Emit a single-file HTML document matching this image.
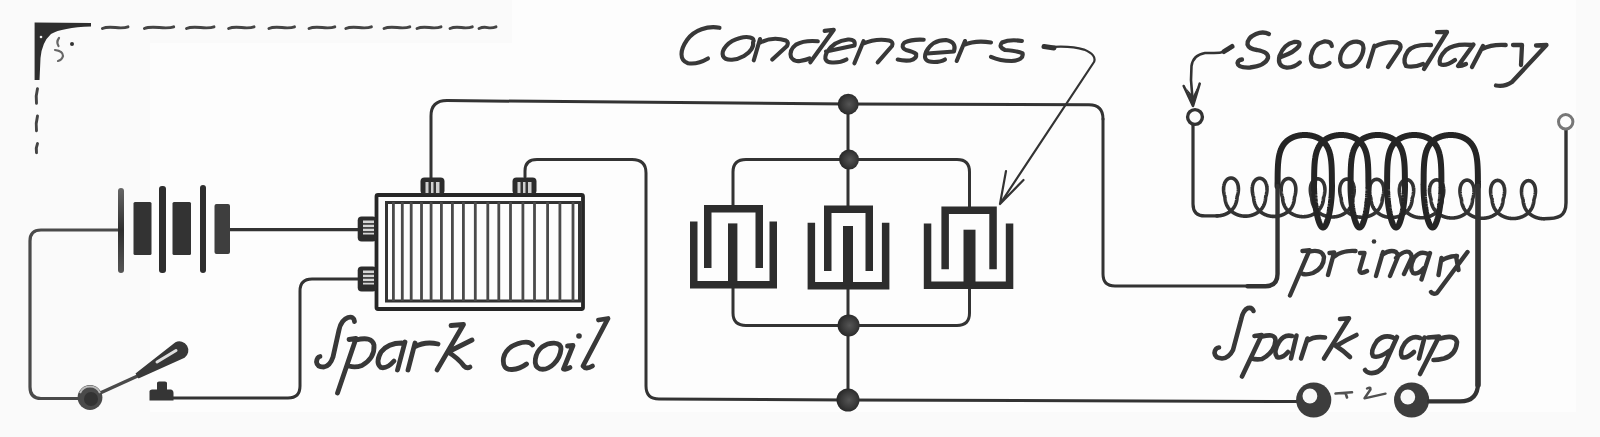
<!DOCTYPE html>
<html><head><meta charset="utf-8"><style>
html,body{margin:0;padding:0;background:#fbfbfb;}
svg{display:block;}
text{font-family:"Liberation Sans",sans-serif;font-style:italic;fill:#353535;}
</style></head><body>
<svg width="1600" height="437" viewBox="0 0 1600 437">
<defs>
<radialGradient id="ball" cx="0.42" cy="0.38" r="0.62"><stop offset="0" stop-color="#444"/><stop offset="0.55" stop-color="#3a3a3a"/><stop offset="0.85" stop-color="#5a5a5a"/><stop offset="1" stop-color="#8a8a8a"/></radialGradient>
<radialGradient id="node" cx="0.55" cy="0.5" r="0.55"><stop offset="0" stop-color="#555"/><stop offset="0.6" stop-color="#3a3a3a"/><stop offset="1" stop-color="#262626"/></radialGradient>
<linearGradient id="plate1" x1="0" y1="0" x2="0" y2="1"><stop offset="0" stop-color="#666"/><stop offset="0.5" stop-color="#2e2e2e"/><stop offset="1" stop-color="#555"/></linearGradient>
</defs>
<rect x="0" y="0" width="1600" height="437" fill="#fafafa"/>
<path d="M150,43 H512 V0 H1576 V412 H150 Z" fill="#fdfdfd"/>

<path d="M121,230 H41 Q30,230 30,241 V387 Q30,398.5 41,398.5 H80" fill="none" stroke="#4a4a4a" stroke-width="3.2" stroke-linejoin="round" stroke-linecap="round" />
<path d="M230,229.6 H358" fill="none" stroke="#333" stroke-width="3.2" stroke-linejoin="round" stroke-linecap="round" />
<path d="M165,398 H288 Q300,398 300,386 V291 Q300,279 312,279 H358" fill="none" stroke="#333" stroke-width="3.0" stroke-linejoin="round" stroke-linecap="round" />
<path d="M431,178 V116 Q431,100.6 447,100.6 L848,104 L1089,104.8 Q1103,104.8 1103,119" fill="none" stroke="#333" stroke-width="3.0" stroke-linejoin="round" stroke-linecap="round" />
<path d="M525,177 V171 Q525,159.6 537,159.6 H632 Q646,159.6 646,173 V386 Q646,399 659,399 L848,400 L1298,401.5" fill="none" stroke="#333" stroke-width="3.0" stroke-linejoin="round" stroke-linecap="round" />
<path d="M733,206 V172 Q733,159.6 746,159.6 H957 Q969.5,159.6 969.5,172 V207" fill="none" stroke="#333" stroke-width="3.0" stroke-linejoin="round" stroke-linecap="round" />
<path d="M733,287 V313 Q733,325.4 746,325.4 H957 Q969.5,325.4 969.5,313 V287" fill="none" stroke="#333" stroke-width="3.0" stroke-linejoin="round" stroke-linecap="round" />
<path d="M848,104 V206 M848,287 V400" fill="none" stroke="#333" stroke-width="3.0" stroke-linejoin="round" stroke-linecap="round" />
<circle cx="848.2" cy="104.2" r="10.5" fill="url(#node)"/>
<circle cx="849" cy="159.6" r="10" fill="url(#node)"/>
<circle cx="848.6" cy="325.4" r="11" fill="url(#node)"/>
<circle cx="848" cy="400" r="11.5" fill="url(#node)"/>
<rect x="118" y="188" width="6" height="85" rx="3" fill="url(#plate1)"/>
<rect x="133.5" y="202" width="18" height="53" rx="1.5" fill="#333"/>
<rect x="159" y="186" width="7" height="87" rx="3" fill="#2e2e2e"/>
<rect x="172.5" y="202" width="18.5" height="53" rx="1.5" fill="#333"/>
<rect x="200" y="185" width="6" height="88" rx="3" fill="#2e2e2e"/>
<rect x="214.5" y="204" width="15.5" height="50" rx="2" fill="#3e3e3e"/>
<line x1="98" y1="394" x2="142" y2="374" stroke="#4a4a4a" stroke-width="3.5"/>
<path d="M135.5,373.4 L175.4,342.3 A9,9 0 0 1 184.6,357.7 L138.5,378.6 Z" fill="#383838"/>
<path d="M157,362 L176,350.5" stroke="#e0e0e0" stroke-width="3" stroke-linecap="round"/>
<circle cx="90" cy="397.5" r="12.4" fill="#4a4a4a"/>
<path d="M80,393 A11,11 0 0 1 100,393" fill="none" stroke="#bbb" stroke-width="2"/>
<circle cx="91" cy="399" r="7" fill="#333"/>
<path d="M149.5,400.5 L149.5,391 Q150,389.5 152,389.5 L157,389.5 L157,383 Q157,381.5 159,381.5 L165,381.5 Q167,381.5 167,383 L167,389.5 L171,389.5 Q173.5,390 173.5,393 L173.5,400.5 Z" fill="#353535"/>
<rect x="376.5" y="195" width="206.5" height="114" fill="none" stroke="#262626" stroke-width="3.8" rx="1.5"/>
<rect x="386.5" y="202.5" width="193" height="98.5" fill="none" stroke="#333" stroke-width="3"/>
<line x1="393.4" y1="202" x2="393.4" y2="301" stroke="#4a4a4a" stroke-width="2.8"/>
<line x1="402.3" y1="202" x2="402.3" y2="301" stroke="#4a4a4a" stroke-width="2.8"/>
<line x1="411.2" y1="202" x2="411.2" y2="301" stroke="#4a4a4a" stroke-width="2.8"/>
<line x1="421.5" y1="202" x2="421.5" y2="301" stroke="#4a4a4a" stroke-width="2.8"/>
<line x1="431.1" y1="202" x2="431.1" y2="301" stroke="#4a4a4a" stroke-width="2.8"/>
<line x1="441.4" y1="202" x2="441.4" y2="301" stroke="#4a4a4a" stroke-width="2.8"/>
<line x1="452.4" y1="202" x2="452.4" y2="301" stroke="#4a4a4a" stroke-width="2.8"/>
<line x1="463.4" y1="202" x2="463.4" y2="301" stroke="#4a4a4a" stroke-width="2.8"/>
<line x1="475.3" y1="202" x2="475.3" y2="301" stroke="#4a4a4a" stroke-width="2.8"/>
<line x1="487.8" y1="202" x2="487.8" y2="301" stroke="#4a4a4a" stroke-width="2.8"/>
<line x1="498.8" y1="202" x2="498.8" y2="301" stroke="#4a4a4a" stroke-width="2.8"/>
<line x1="510.5" y1="202" x2="510.5" y2="301" stroke="#4a4a4a" stroke-width="2.8"/>
<line x1="522.9" y1="202" x2="522.9" y2="301" stroke="#4a4a4a" stroke-width="2.8"/>
<line x1="534.5" y1="202" x2="534.5" y2="301" stroke="#4a4a4a" stroke-width="2.8"/>
<line x1="547.6" y1="202" x2="547.6" y2="301" stroke="#4a4a4a" stroke-width="2.8"/>
<line x1="559.9" y1="202" x2="559.9" y2="301" stroke="#4a4a4a" stroke-width="2.8"/>
<line x1="573" y1="202" x2="573" y2="301" stroke="#4a4a4a" stroke-width="2.8"/>
<rect x="420.5" y="177.5" width="24" height="17" rx="4" fill="#2c2c2c"/>
<rect x="425.5" y="182" width="14" height="11" fill="#cfcfcf"/>
<rect x="428.5" y="182" width="2.5" height="11" fill="#333"/><rect x="433.5" y="182" width="2.5" height="11" fill="#333"/>
<rect x="512.5" y="177.5" width="24" height="17" rx="4" fill="#2c2c2c"/>
<rect x="517.5" y="182" width="14" height="11" fill="#cfcfcf"/>
<rect x="520.5" y="182" width="2.5" height="11" fill="#333"/><rect x="525.5" y="182" width="2.5" height="11" fill="#333"/>
<rect x="357.7" y="216.5" width="19" height="25" rx="4" fill="#2c2c2c"/>
<rect x="363" y="220.5" width="11" height="14" fill="#d5d5d5"/>
<rect x="363" y="223.0" width="11" height="1.8" fill="#444"/>
<rect x="363" y="227.0" width="11" height="1.8" fill="#444"/>
<rect x="363" y="231.0" width="11" height="1.8" fill="#444"/>
<rect x="357.7" y="266.5" width="19" height="25" rx="4" fill="#2c2c2c"/>
<rect x="363" y="270.5" width="11" height="14" fill="#d5d5d5"/>
<rect x="363" y="273.0" width="11" height="1.8" fill="#444"/>
<rect x="363" y="277.0" width="11" height="1.8" fill="#444"/>
<rect x="363" y="281.0" width="11" height="1.8" fill="#444"/>
<path d="M707.75,268 V208.75 H759.25 V268" fill="none" stroke="#2d2d2d" stroke-width="7.5" stroke-linejoin="miter"/><path d="M693.75,221.4 V284.75 H773.25 V221.4" fill="none" stroke="#2d2d2d" stroke-width="7.5" stroke-linejoin="miter"/><path d="M732.7,223.4 V284.75" stroke="#2d2d2d" stroke-width="9.399999999999977" stroke-linecap="butt"/>
<path d="M827.75,271 V209.35 H869.25 V271" fill="none" stroke="#2d2d2d" stroke-width="7.5" stroke-linejoin="miter"/><path d="M811.35,222.7 V285.75 H885.65 V222.7" fill="none" stroke="#2d2d2d" stroke-width="7.5" stroke-linejoin="miter"/><path d="M848.0,226 V285.75" stroke="#2d2d2d" stroke-width="10" stroke-linecap="butt"/>
<path d="M945.15,269.3 V210.15 H993.05 V269.3" fill="none" stroke="#2d2d2d" stroke-width="7.5" stroke-linejoin="miter"/><path d="M927.55,223.6 V285.25 H1009.55 V223.6" fill="none" stroke="#2d2d2d" stroke-width="7.5" stroke-linejoin="miter"/><path d="M969.5,229.7 V285.25" stroke="#2d2d2d" stroke-width="12.0" stroke-linecap="butt"/>
<circle cx="1313.7" cy="400" r="17.6" fill="#3d3d3d"/><circle cx="1309.9" cy="396" r="7.4" fill="#f8f8f8"/>
<circle cx="1411.6" cy="400" r="17.6" fill="#3d3d3d"/><circle cx="1407.8" cy="397" r="7.4" fill="#f8f8f8"/>
<path d="M1335.5,393.5 L1352,392.3 M1345.5,393 L1347,397.5" fill="none" stroke="#505050" stroke-width="2.6" stroke-linecap="round"/>
<path d="M1367,388.5 Q1371,386.5 1370.5,389.5 L1364.5,398.3 L1385.5,393.6" fill="none" stroke="#505050" stroke-width="2.4" stroke-linecap="round" stroke-linejoin="round"/>
<path d="M1193,125 V203.90 Q1193,215.90 1205,215.90 H1216.78" fill="none" stroke="#333" stroke-width="3.2" stroke-linejoin="round" stroke-linecap="round" />
<path d="M1216.78,215.90 L1217.06,215.90 L1217.34,215.89 L1217.62,215.89 L1217.89,215.88 L1218.17,215.86 L1218.45,215.84 L1218.73,215.82 L1219.01,215.80 L1219.28,215.77 L1219.56,215.74 L1219.84,215.70 L1220.11,215.66 L1220.39,215.62 L1220.67,215.58 L1220.94,215.53 L1221.22,215.48 L1221.49,215.42 L1221.76,215.36 L1222.04,215.30 L1222.31,215.23 L1222.58,215.16 L1222.85,215.09 L1223.12,215.01 L1223.39,214.93 L1223.66,214.85 L1223.92,214.76 L1224.19,214.67 L1224.45,214.58 L1224.72,214.48 L1224.98,214.38 L1225.24,214.28 L1225.50,214.17 L1225.76,214.06 L1226.02,213.94 L1226.28,213.83 L1226.53,213.70 L1226.79,213.58 L1227.04,213.45 L1227.29,213.31 L1227.54,213.18 L1227.79,213.04 L1228.03,212.89 L1228.28,212.75 L1228.52,212.59 L1228.76,212.44 L1229.00,212.28 L1229.24,212.11 L1229.47,211.95 L1229.71,211.78 L1229.94,211.60 L1230.17,211.42 L1230.40,211.24 L1230.62,211.05 L1230.84,210.86 L1231.06,210.66 L1231.28,210.46 L1231.50,210.26 L1231.71,210.05 L1231.92,209.83 L1232.13,209.61 L1232.34,209.39 L1232.54,209.16 L1232.74,208.93 L1232.94,208.69 L1233.14,208.44 L1233.33,208.19 L1233.52,207.94 L1233.71,207.68 L1233.89,207.41 L1234.07,207.13 L1234.25,206.85 L1234.42,206.56 L1234.59,206.26 L1234.76,205.96 L1234.93,205.64 L1235.09,205.32 L1235.25,204.99 L1235.40,204.64 L1235.56,204.28 L1235.70,203.91 L1235.85,203.53 L1235.99,203.13 L1236.13,202.71 L1236.26,202.26 L1236.39,201.79 L1236.52,201.28 L1236.64,200.73 L1236.76,200.12 L1236.87,199.42 L1236.98,198.54 L1237.09,196.94 L1237.19,196.61 L1237.29,196.28 L1237.39,195.95 L1237.48,195.63 L1237.57,195.30 L1237.65,194.97 L1237.73,194.65 L1237.80,194.32 L1237.87,194.00 L1237.94,193.68 L1238.00,193.36 L1238.06,193.03 L1238.12,192.71 L1238.16,192.40 L1238.21,192.08 L1238.25,191.76 L1238.29,191.45 L1238.32,191.14 L1238.35,190.83 L1238.37,190.52 L1238.39,190.21 L1238.41,189.90 L1238.42,189.60 L1238.42,189.30 L1238.43,189.00 L1238.42,188.71 L1238.42,188.41 L1238.41,188.12 L1238.39,187.83 L1238.37,187.55 L1238.35,187.27 L1238.32,186.99 L1238.29,186.71 L1238.26,186.43 L1238.22,186.16 L1238.17,185.90 L1238.12,185.63 L1238.07,185.37 L1238.01,185.11 L1237.95,184.86 L1237.89,184.61 L1237.82,184.36 L1237.75,184.12 L1237.67,183.88 L1237.59,183.65 L1237.51,183.42 L1237.42,183.19 L1237.33,182.97 L1237.24,182.75 L1237.14,182.54 L1237.04,182.33 L1236.93,182.12 L1236.83,181.92 L1236.71,181.72 L1236.60,181.53 L1236.48,181.34 L1236.36,181.16 L1236.24,180.98 L1236.11,180.81 L1235.98,180.64 L1235.85,180.48 L1235.71,180.32 L1235.57,180.16 L1235.43,180.02 L1235.29,179.87 L1235.14,179.73 L1234.99,179.60 L1234.84,179.47 L1234.69,179.35 L1234.54,179.23 L1234.38,179.12 L1234.22,179.01 L1234.06,178.91 L1233.90,178.82 L1233.73,178.73 L1233.57,178.64 L1233.40,178.56 L1233.23,178.49 L1233.06,178.42 L1232.89,178.36 L1232.72,178.30 L1232.55,178.25 L1232.38,178.20 L1232.20,178.16 L1232.03,178.12 L1231.85,178.09 L1231.67,178.07 L1231.50,178.05 L1231.32,178.04 L1231.14,178.03 L1230.97,178.03 L1230.79,178.04 L1230.61,178.05 L1230.44,178.06 L1230.26,178.08 L1230.08,178.11 L1229.91,178.14 L1229.73,178.18 L1229.56,178.23 L1229.39,178.28 L1229.21,178.33 L1229.04,178.39 L1228.87,178.46 L1228.70,178.53 L1228.54,178.61 L1228.37,178.69 L1228.20,178.78 L1228.04,178.88 L1227.88,178.98 L1227.72,179.08 L1227.56,179.19 L1227.41,179.31 L1227.25,179.43 L1227.10,179.55 L1226.95,179.68 L1226.80,179.82 L1226.66,179.96 L1226.52,180.11 L1226.38,180.26 L1226.24,180.42 L1226.10,180.58 L1225.97,180.75 L1225.84,180.92 L1225.72,181.09 L1225.60,181.28 L1225.48,181.46 L1225.36,181.65 L1225.25,181.85 L1225.14,182.05 L1225.03,182.25 L1224.92,182.46 L1224.82,182.67 L1224.73,182.89 L1224.64,183.11 L1224.55,183.34 L1224.46,183.57 L1224.38,183.80 L1224.30,184.04 L1224.23,184.28 L1224.15,184.53 L1224.09,184.77 L1224.03,185.03 L1223.97,185.28 L1223.91,185.54 L1223.86,185.81 L1223.82,186.07 L1223.77,186.34 L1223.73,186.62 L1223.70,186.89 L1223.67,187.17 L1223.64,187.46 L1223.62,187.74 L1223.61,188.03 L1223.59,188.32 L1223.58,188.61 L1223.58,188.91 L1223.58,189.21 L1223.58,189.51 L1223.59,189.81 L1223.60,190.12 L1223.62,190.42 L1223.64,190.73 L1223.67,191.04 L1223.70,191.36 L1223.73,191.67 L1223.77,191.99 L1223.81,192.30 L1223.86,192.62 L1223.91,192.94 L1223.97,193.27 L1224.03,193.59 L1224.09,193.91 L1224.16,194.24 L1224.23,194.56 L1224.31,194.89 L1224.39,195.22 L1224.48,195.54 L1224.56,195.87 L1224.66,196.20 L1224.75,196.53 L1224.86,196.86 L1224.96,197.86 L1225.07,199.02 L1225.18,199.82 L1225.30,200.49 L1225.42,201.08 L1225.54,201.61 L1225.67,202.11 L1225.80,202.57 L1225.94,203.01 L1226.08,203.42 L1226.22,203.82 L1226.37,204.20 L1226.52,204.57 L1226.67,204.92 L1226.83,205.26 L1226.99,205.59 L1227.15,205.91 L1227.32,206.23 L1227.49,206.53 L1227.66,206.83 L1227.84,207.11 L1228.02,207.39 L1228.20,207.67 L1228.38,207.94 L1228.57,208.20 L1228.76,208.45 L1228.96,208.70 L1229.15,208.95 L1229.35,209.19 L1229.56,209.42 L1229.76,209.65 L1229.97,209.87 L1230.18,210.09 L1230.39,210.30 L1230.61,210.51 L1230.82,210.72 L1231.04,210.92 L1231.27,211.12 L1231.49,211.31 L1231.72,211.49 L1231.94,211.68 L1232.18,211.86 L1232.41,212.03 L1232.64,212.20 L1232.88,212.37 L1233.12,212.53 L1233.36,212.69 L1233.60,212.85 L1233.85,213.00 L1234.09,213.15 L1234.34,213.29 L1234.59,213.43 L1234.84,213.57 L1235.09,213.70 L1235.34,213.83 L1235.60,213.96 L1235.86,214.08 L1236.11,214.20 L1236.37,214.32 L1236.63,214.43 L1236.89,214.54 L1237.16,214.64 L1237.42,214.74 L1237.69,214.84 L1237.95,214.93 L1238.22,215.02 L1238.49,215.11 L1238.75,215.19 L1239.02,215.27 L1239.29,215.35 L1239.57,215.42 L1239.84,215.49 L1240.11,215.56 L1240.38,215.62 L1240.66,215.68 L1240.93,215.74 L1241.21,215.79 L1241.48,215.84 L1241.76,215.88 L1242.04,215.92 L1242.31,215.96 L1242.59,216.00 L1242.87,216.03 L1243.15,216.06 L1243.43,216.08 L1243.71,216.11 L1243.98,216.12 L1244.26,216.14 L1244.54,216.15 L1244.82,216.16 L1245.10,216.16 L1245.38,216.16 L1245.66,216.16 L1245.94,216.16 L1246.22,216.15 L1246.50,216.13 L1246.78,216.12 L1247.06,216.10 L1247.34,216.08 L1247.61,216.05 L1247.89,216.02 L1248.17,215.99 L1248.45,215.95 L1248.72,215.91 L1249.00,215.87 L1249.28,215.82 L1249.55,215.77 L1249.83,215.72 L1250.10,215.66 L1250.37,215.60 L1250.65,215.54 L1250.92,215.47 L1251.19,215.40 L1251.46,215.33 L1251.73,215.25 L1252.00,215.17 L1252.27,215.08 L1252.54,215.00 L1252.80,214.90 L1253.07,214.81 L1253.33,214.71 L1253.60,214.61 L1253.86,214.50 L1254.12,214.39 L1254.38,214.28 L1254.64,214.16 L1254.89,214.05 L1255.15,213.92 L1255.40,213.79 L1255.66,213.66 L1255.91,213.53 L1256.16,213.39 L1256.40,213.25 L1256.65,213.10 L1256.90,212.95 L1257.14,212.80 L1257.38,212.64 L1257.62,212.48 L1257.86,212.32 L1258.09,212.15 L1258.33,211.98 L1258.56,211.80 L1258.79,211.62 L1259.01,211.43 L1259.24,211.25 L1259.46,211.05 L1259.68,210.85 L1259.90,210.65 L1260.12,210.45 L1260.33,210.23 L1260.54,210.02 L1260.75,209.80 L1260.96,209.57 L1261.16,209.34 L1261.36,209.11 L1261.56,208.86 L1261.75,208.62 L1261.94,208.36 L1262.13,208.11 L1262.32,207.84 L1262.50,207.57 L1262.68,207.29 L1262.86,207.01 L1263.04,206.72 L1263.21,206.42 L1263.37,206.11 L1263.54,205.79 L1263.70,205.46 L1263.86,205.13 L1264.01,204.78 L1264.16,204.42 L1264.31,204.04 L1264.46,203.65 L1264.60,203.24 L1264.73,202.81 L1264.87,202.36 L1265.00,201.87 L1265.12,201.35 L1265.24,200.78 L1265.36,200.14 L1265.47,199.39 L1265.59,198.39 L1265.69,197.08 L1265.79,196.75 L1265.89,196.43 L1265.99,196.10 L1266.08,195.77 L1266.16,195.45 L1266.25,195.12 L1266.32,194.79 L1266.40,194.47 L1266.47,194.15 L1266.53,193.82 L1266.60,193.50 L1266.65,193.18 L1266.71,192.86 L1266.75,192.54 L1266.80,192.23 L1266.84,191.91 L1266.87,191.60 L1266.91,191.29 L1266.93,190.98 L1266.96,190.67 L1266.98,190.36 L1266.99,190.06 L1267.00,189.76 L1267.01,189.46 L1267.01,189.16 L1267.00,188.86 L1267.00,188.57 L1266.99,188.28 L1266.97,187.99 L1266.95,187.71 L1266.93,187.43 L1266.90,187.15 L1266.86,186.87 L1266.83,186.60 L1266.79,186.33 L1266.74,186.06 L1266.69,185.80 L1266.64,185.54 L1266.58,185.29 L1266.52,185.03 L1266.46,184.78 L1266.39,184.54 L1266.31,184.30 L1266.24,184.06 L1266.16,183.83 L1266.07,183.60 L1265.99,183.37 L1265.89,183.15 L1265.80,182.93 L1265.70,182.72 L1265.60,182.51 L1265.49,182.31 L1265.38,182.11 L1265.27,181.92 L1265.16,181.73 L1265.04,181.54 L1264.92,181.36 L1264.79,181.18 L1264.66,181.01 L1264.53,180.84 L1264.40,180.68 L1264.27,180.53 L1264.13,180.37 L1263.99,180.23 L1263.84,180.09 L1263.70,179.95 L1263.55,179.82 L1263.40,179.69 L1263.24,179.57 L1263.09,179.46 L1262.93,179.35 L1262.77,179.24 L1262.61,179.14 L1262.45,179.05 L1262.29,178.96 L1262.12,178.87 L1261.96,178.80 L1261.79,178.73 L1261.62,178.66 L1261.45,178.60 L1261.28,178.54 L1261.10,178.49 L1260.93,178.45 L1260.76,178.41 L1260.58,178.38 L1260.41,178.35 L1260.23,178.33 L1260.06,178.31 L1259.88,178.30 L1259.70,178.30 L1259.53,178.30 L1259.35,178.30 L1259.17,178.32 L1259.00,178.33 L1258.82,178.36 L1258.65,178.39 L1258.47,178.42 L1258.30,178.46 L1258.13,178.51 L1257.95,178.56 L1257.78,178.62 L1257.61,178.68 L1257.44,178.75 L1257.28,178.82 L1257.11,178.90 L1256.94,178.99 L1256.78,179.08 L1256.62,179.18 L1256.46,179.28 L1256.30,179.38 L1256.14,179.50 L1255.99,179.61 L1255.84,179.74 L1255.69,179.86 L1255.54,180.00 L1255.39,180.14 L1255.25,180.28 L1255.11,180.43 L1254.97,180.58 L1254.84,180.74 L1254.70,180.90 L1254.57,181.07 L1254.45,181.25 L1254.32,181.42 L1254.20,181.61 L1254.08,181.79 L1253.97,181.99 L1253.86,182.18 L1253.75,182.38 L1253.64,182.59 L1253.54,182.80 L1253.44,183.01 L1253.35,183.23 L1253.26,183.46 L1253.17,183.68 L1253.09,183.91 L1253.01,184.15 L1252.93,184.39 L1252.86,184.63 L1252.79,184.88 L1252.72,185.13 L1252.66,185.38 L1252.61,185.64 L1252.56,185.90 L1252.51,186.17 L1252.46,186.44 L1252.42,186.71 L1252.39,186.98 L1252.35,187.26 L1252.33,187.54 L1252.30,187.82 L1252.28,188.11 L1252.27,188.40 L1252.26,188.69 L1252.25,188.98 L1252.25,189.28 L1252.25,189.58 L1252.26,189.88 L1252.27,190.19 L1252.28,190.49 L1252.30,190.80 L1252.33,191.11 L1252.35,191.42 L1252.39,191.73 L1252.42,192.05 L1252.46,192.37 L1252.51,192.68 L1252.56,193.00 L1252.61,193.32 L1252.67,193.65 L1252.73,193.97 L1252.80,194.29 L1252.87,194.62 L1252.94,194.95 L1253.02,195.27 L1253.10,195.60 L1253.19,195.93 L1253.28,196.26 L1253.38,196.58 L1253.48,196.91 L1253.58,197.24 L1253.69,198.63 L1253.80,199.60 L1253.91,200.34 L1254.03,200.97 L1254.15,201.54 L1254.28,202.06 L1254.41,202.54 L1254.55,202.99 L1254.68,203.42 L1254.82,203.83 L1254.97,204.22 L1255.12,204.60 L1255.27,204.96 L1255.42,205.31 L1255.58,205.65 L1255.74,205.97 L1255.91,206.29 L1256.08,206.60 L1256.25,206.90 L1256.42,207.20 L1256.60,207.48 L1256.78,207.76 L1256.97,208.03 L1257.16,208.30 L1257.35,208.56 L1257.54,208.81 L1257.73,209.06 L1257.93,209.30 L1258.13,209.54 L1258.34,209.77 L1258.54,209.99 L1258.75,210.22 L1258.97,210.43 L1259.18,210.65 L1259.40,210.85 L1259.61,211.06 L1259.84,211.25 L1260.06,211.45 L1260.29,211.64 L1260.51,211.83 L1260.74,212.01 L1260.98,212.19 L1261.21,212.36 L1261.45,212.53 L1261.68,212.69 L1261.92,212.86 L1262.17,213.01 L1262.41,213.17 L1262.66,213.32 L1262.90,213.47 L1263.15,213.61 L1263.40,213.75 L1263.65,213.88 L1263.91,214.02 L1264.16,214.14 L1264.42,214.27 L1264.67,214.39 L1264.93,214.51 L1265.19,214.62 L1265.46,214.73 L1265.72,214.84 L1265.98,214.94 L1266.25,215.04 L1266.51,215.14 L1266.78,215.23 L1267.05,215.32 L1267.32,215.40 L1267.59,215.49 L1267.86,215.57 L1268.13,215.64 L1268.40,215.71 L1268.67,215.78 L1268.95,215.85 L1269.22,215.91 L1269.50,215.96 L1269.77,216.02 L1270.05,216.07 L1270.33,216.12 L1270.60,216.16 L1270.88,216.20 L1271.16,216.24 L1271.44,216.27 L1271.72,216.31 L1271.99,216.33 L1272.27,216.36 L1272.55,216.38 L1272.83,216.39 L1273.11,216.41 L1273.39,216.42 L1273.67,216.42 L1273.95,216.43 L1274.23,216.43 L1274.51,216.42 L1274.79,216.42 L1275.07,216.41 L1275.35,216.39 L1275.63,216.38 L1275.91,216.36 L1276.19,216.33 L1276.47,216.30 L1276.75,216.27 L1277.03,216.24 L1277.31,216.20 L1277.58,216.16 L1277.86,216.12 L1278.14,216.07 L1278.41,216.02 L1278.69,215.96 L1278.96,215.90 L1279.24,215.84 L1279.51,215.78 L1279.78,215.71 L1280.06,215.64 L1280.33,215.56 L1280.60,215.48 L1280.87,215.40 L1281.13,215.32 L1281.40,215.23 L1281.67,215.13 L1281.93,215.04 L1282.20,214.94 L1282.46,214.83 L1282.72,214.73 L1282.99,214.62 L1283.25,214.50 L1283.50,214.39 L1283.76,214.26 L1284.02,214.14 L1284.27,214.01 L1284.52,213.88 L1284.78,213.74 L1285.02,213.60 L1285.27,213.46 L1285.52,213.31 L1285.76,213.16 L1286.01,213.01 L1286.25,212.85 L1286.49,212.69 L1286.73,212.52 L1286.96,212.35 L1287.19,212.18 L1287.43,212.00 L1287.65,211.82 L1287.88,211.63 L1288.11,211.44 L1288.33,211.24 L1288.55,211.05 L1288.77,210.84 L1288.98,210.63 L1289.20,210.42 L1289.41,210.20 L1289.62,209.98 L1289.82,209.75 L1290.02,209.52 L1290.23,209.28 L1290.42,209.04 L1290.62,208.79 L1290.81,208.54 L1291.00,208.27 L1291.18,208.01 L1291.37,207.73 L1291.55,207.45 L1291.72,207.17 L1291.90,206.87 L1292.07,206.57 L1292.24,206.26 L1292.40,205.94 L1292.56,205.61 L1292.72,205.26 L1292.87,204.91 L1293.02,204.54 L1293.17,204.16 L1293.31,203.77 L1293.45,203.35 L1293.59,202.91 L1293.72,202.45 L1293.85,201.95 L1293.97,201.42 L1294.10,200.82 L1294.21,200.15 L1294.33,199.33 L1294.44,198.09 L1294.54,197.23 L1294.64,196.90 L1294.74,196.57 L1294.84,196.24 L1294.93,195.92 L1295.01,195.59 L1295.09,195.27 L1295.17,194.94 L1295.24,194.62 L1295.31,194.29 L1295.38,193.97 L1295.44,193.65 L1295.49,193.33 L1295.55,193.01 L1295.59,192.69 L1295.64,192.38 L1295.68,192.06 L1295.71,191.75 L1295.74,191.44 L1295.77,191.13 L1295.79,190.82 L1295.81,190.52 L1295.82,190.21 L1295.83,189.91 L1295.84,189.61 L1295.84,189.31 L1295.83,189.02 L1295.82,188.73 L1295.81,188.44 L1295.80,188.15 L1295.77,187.87 L1295.75,187.59 L1295.72,187.31 L1295.69,187.04 L1295.65,186.77 L1295.61,186.50 L1295.56,186.23 L1295.51,185.97 L1295.46,185.71 L1295.40,185.46 L1295.34,185.21 L1295.27,184.96 L1295.20,184.72 L1295.13,184.48 L1295.05,184.24 L1294.97,184.01 L1294.89,183.78 L1294.80,183.56 L1294.71,183.34 L1294.61,183.12 L1294.51,182.91 L1294.41,182.70 L1294.30,182.50 L1294.19,182.30 L1294.08,182.11 L1293.96,181.92 L1293.85,181.74 L1293.72,181.56 L1293.60,181.38 L1293.47,181.21 L1293.34,181.05 L1293.21,180.89 L1293.07,180.73 L1292.93,180.58 L1292.79,180.44 L1292.65,180.30 L1292.50,180.16 L1292.35,180.04 L1292.20,179.91 L1292.05,179.79 L1291.89,179.68 L1291.74,179.57 L1291.58,179.47 L1291.42,179.37 L1291.26,179.28 L1291.09,179.19 L1290.93,179.11 L1290.76,179.03 L1290.59,178.96 L1290.42,178.90 L1290.25,178.84 L1290.08,178.79 L1289.91,178.74 L1289.74,178.70 L1289.56,178.66 L1289.39,178.63 L1289.22,178.60 L1289.04,178.58 L1288.87,178.57 L1288.69,178.56 L1288.51,178.56 L1288.34,178.56 L1288.16,178.57 L1287.99,178.59 L1287.81,178.61 L1287.64,178.63 L1287.46,178.66 L1287.29,178.70 L1287.12,178.74 L1286.94,178.79 L1286.77,178.84 L1286.60,178.90 L1286.43,178.97 L1286.27,179.04 L1286.10,179.12 L1285.93,179.20 L1285.77,179.28 L1285.61,179.38 L1285.45,179.48 L1285.29,179.58 L1285.13,179.69 L1284.98,179.80 L1284.82,179.92 L1284.67,180.05 L1284.52,180.18 L1284.38,180.31 L1284.23,180.45 L1284.09,180.60 L1283.95,180.75 L1283.82,180.90 L1283.68,181.06 L1283.55,181.23 L1283.42,181.40 L1283.30,181.57 L1283.17,181.75 L1283.06,181.94 L1282.94,182.13 L1282.83,182.32 L1282.72,182.52 L1282.61,182.72 L1282.51,182.93 L1282.41,183.14 L1282.31,183.36 L1282.22,183.58 L1282.13,183.80 L1282.04,184.03 L1281.96,184.26 L1281.88,184.50 L1281.81,184.74 L1281.74,184.99 L1281.67,185.23 L1281.61,185.49 L1281.55,185.74 L1281.50,186.00 L1281.45,186.26 L1281.40,186.53 L1281.36,186.80 L1281.32,187.07 L1281.29,187.35 L1281.26,187.62 L1281.23,187.91 L1281.21,188.19 L1281.19,188.48 L1281.18,188.77 L1281.17,189.06 L1281.17,189.36 L1281.17,189.65 L1281.17,189.95 L1281.18,190.26 L1281.19,190.56 L1281.21,190.87 L1281.23,191.18 L1281.26,191.49 L1281.29,191.80 L1281.32,192.11 L1281.36,192.43 L1281.41,192.75 L1281.45,193.06 L1281.50,193.38 L1281.56,193.71 L1281.62,194.03 L1281.69,194.35 L1281.75,194.68 L1281.83,195.00 L1281.90,195.33 L1281.98,195.66 L1282.07,195.98 L1282.16,196.31 L1282.25,196.64 L1282.35,196.97 L1282.45,197.30 L1282.56,197.63 L1282.67,199.29 L1282.78,200.15 L1282.90,200.84 L1283.02,201.45 L1283.14,202.00 L1283.27,202.50 L1283.40,202.97 L1283.54,203.42 L1283.68,203.84 L1283.82,204.24 L1283.97,204.62 L1284.12,204.99 L1284.27,205.35 L1284.43,205.70 L1284.59,206.03 L1284.75,206.36 L1284.92,206.67 L1285.09,206.98 L1285.26,207.27 L1285.44,207.56 L1285.62,207.85 L1285.80,208.12 L1285.99,208.39 L1286.18,208.66 L1286.37,208.91 L1286.56,209.16 L1286.76,209.41 L1286.96,209.65 L1287.16,209.88 L1287.37,210.11 L1287.58,210.34 L1287.79,210.56 L1288.00,210.77 L1288.22,210.99 L1288.44,211.19 L1288.66,211.39 L1288.88,211.59 L1289.10,211.78 L1289.33,211.97 L1289.56,212.16 L1289.79,212.34 L1290.03,212.51 L1290.26,212.69 L1290.50,212.85 L1290.74,213.02 L1290.98,213.18 L1291.22,213.34 L1291.47,213.49 L1291.72,213.64 L1291.96,213.78 L1292.21,213.92 L1292.47,214.06 L1292.72,214.20 L1292.97,214.33 L1293.23,214.45 L1293.49,214.58 L1293.75,214.70 L1294.01,214.81 L1294.27,214.93 L1294.53,215.03 L1294.79,215.14 L1295.06,215.24 L1295.32,215.34 L1295.59,215.43 L1295.86,215.53 L1296.13,215.61 L1296.40,215.70 L1296.67,215.78 L1296.94,215.86 L1297.21,215.93 L1297.49,216.00 L1297.76,216.07 L1298.04,216.13 L1298.31,216.19 L1298.59,216.25 L1298.86,216.30 L1299.14,216.35 L1299.42,216.40 L1299.70,216.44 L1299.97,216.48 L1300.25,216.52 L1300.53,216.55 L1300.81,216.58 L1301.09,216.61 L1301.37,216.63 L1301.65,216.65 L1301.93,216.66 L1302.21,216.68 L1302.49,216.68 L1302.77,216.69 L1303.06,216.69 L1303.34,216.69 L1303.62,216.69 L1303.90,216.68 L1304.18,216.67 L1304.46,216.65 L1304.74,216.63 L1305.02,216.61 L1305.30,216.59 L1305.58,216.56 L1305.86,216.53 L1306.14,216.49 L1306.41,216.45 L1306.69,216.41 L1306.97,216.36 L1307.25,216.31 L1307.52,216.26 L1307.80,216.21 L1308.07,216.15 L1308.35,216.08 L1308.62,216.02 L1308.90,215.95 L1309.17,215.88 L1309.44,215.80 L1309.71,215.72 L1309.98,215.63 L1310.25,215.55 L1310.52,215.46 L1310.78,215.36 L1311.05,215.27 L1311.32,215.16 L1311.58,215.06 L1311.84,214.95 L1312.10,214.84 L1312.36,214.72 L1312.62,214.61 L1312.88,214.48 L1313.13,214.36 L1313.39,214.23 L1313.64,214.09 L1313.89,213.96 L1314.14,213.82 L1314.39,213.67 L1314.64,213.52 L1314.88,213.37 L1315.13,213.22 L1315.37,213.06 L1315.61,212.89 L1315.84,212.72 L1316.08,212.55 L1316.31,212.38 L1316.54,212.20 L1316.77,212.01 L1317.00,211.83 L1317.23,211.63 L1317.45,211.44 L1317.67,211.24 L1317.89,211.03 L1318.10,210.82 L1318.31,210.61 L1318.53,210.39 L1318.73,210.16 L1318.94,209.93 L1319.14,209.70 L1319.34,209.46 L1319.54,209.21 L1319.73,208.96 L1319.92,208.71 L1320.11,208.44 L1320.30,208.17 L1320.48,207.90 L1320.66,207.61 L1320.84,207.32 L1321.01,207.03 L1321.18,206.72 L1321.35,206.41 L1321.51,206.08 L1321.67,205.75 L1321.83,205.40 L1321.98,205.04 L1322.13,204.67 L1322.28,204.29 L1322.42,203.88 L1322.56,203.46 L1322.69,203.01 L1322.83,202.54 L1322.95,202.03 L1323.08,201.47 L1323.20,200.85 L1323.32,200.14 L1323.43,199.23 L1323.54,197.70 L1323.64,197.37 L1323.74,197.04 L1323.84,196.72 L1323.93,196.39 L1324.02,196.06 L1324.11,195.74 L1324.19,195.41 L1324.26,195.09 L1324.34,194.76 L1324.41,194.44 L1324.47,194.12 L1324.53,193.80 L1324.58,193.48 L1324.64,193.16 L1324.68,192.84 L1324.73,192.53 L1324.76,192.21 L1324.80,191.90 L1324.83,191.59 L1324.85,191.28 L1324.87,190.97 L1324.89,190.67 L1324.90,190.37 L1324.91,190.07 L1324.92,189.77 L1324.92,189.47 L1324.91,189.18 L1324.90,188.89 L1324.89,188.60 L1324.87,188.31 L1324.85,188.03 L1324.82,187.75 L1324.79,187.48 L1324.76,187.20 L1324.72,186.93 L1324.68,186.66 L1324.63,186.40 L1324.58,186.14 L1324.53,185.88 L1324.47,185.63 L1324.41,185.38 L1324.34,185.13 L1324.27,184.89 L1324.19,184.65 L1324.12,184.42 L1324.03,184.19 L1323.95,183.96 L1323.86,183.74 L1323.77,183.52 L1323.67,183.31 L1323.57,183.10 L1323.47,182.89 L1323.36,182.69 L1323.25,182.50 L1323.14,182.30 L1323.02,182.12 L1322.90,181.94 L1322.78,181.76 L1322.66,181.58 L1322.53,181.42 L1322.40,181.25 L1322.26,181.10 L1322.13,180.94 L1321.99,180.79 L1321.85,180.65 L1321.70,180.51 L1321.56,180.38 L1321.41,180.25 L1321.26,180.13 L1321.10,180.01 L1320.95,179.90 L1320.79,179.80 L1320.63,179.70 L1320.47,179.60 L1320.31,179.51 L1320.15,179.42 L1319.98,179.35 L1319.82,179.27 L1319.65,179.20 L1319.48,179.14 L1319.31,179.08 L1319.14,179.03 L1318.97,178.99 L1318.80,178.95 L1318.62,178.91 L1318.45,178.88 L1318.27,178.86 L1318.10,178.84 L1317.93,178.83 L1317.75,178.82 L1317.58,178.82 L1317.40,178.83 L1317.23,178.84 L1317.05,178.86 L1316.88,178.88 L1316.70,178.91 L1316.53,178.94 L1316.36,178.98 L1316.18,179.02 L1316.01,179.07 L1315.84,179.13 L1315.67,179.19 L1315.51,179.26 L1315.34,179.33 L1315.17,179.41 L1315.01,179.49 L1314.85,179.58 L1314.69,179.68 L1314.53,179.78 L1314.37,179.88 L1314.21,179.99 L1314.06,180.11 L1313.91,180.23 L1313.76,180.36 L1313.61,180.49 L1313.47,180.62 L1313.32,180.77 L1313.18,180.91 L1313.05,181.07 L1312.91,181.22 L1312.78,181.39 L1312.65,181.55 L1312.52,181.73 L1312.40,181.90 L1312.28,182.08 L1312.16,182.27 L1312.05,182.46 L1311.94,182.66 L1311.83,182.86 L1311.72,183.06 L1311.62,183.27 L1311.53,183.48 L1311.43,183.70 L1311.34,183.92 L1311.25,184.15 L1311.17,184.38 L1311.09,184.61 L1311.01,184.85 L1310.94,185.09 L1310.87,185.34 L1310.81,185.59 L1310.75,185.84 L1310.69,186.10 L1310.64,186.36 L1310.59,186.62 L1310.55,186.89 L1310.51,187.16 L1310.47,187.43 L1310.44,187.71 L1310.41,187.99 L1310.39,188.27 L1310.37,188.56 L1310.36,188.85 L1310.35,189.14 L1310.34,189.43 L1310.34,189.73 L1310.34,190.03 L1310.35,190.33 L1310.36,190.63 L1310.37,190.94 L1310.39,191.24 L1310.42,191.55 L1310.44,191.86 L1310.48,192.18 L1310.51,192.49 L1310.55,192.81 L1310.60,193.12 L1310.65,193.44 L1310.70,193.76 L1310.76,194.09 L1310.82,194.41 L1310.89,194.73 L1310.96,195.06 L1311.04,195.38 L1311.12,195.71 L1311.20,196.04 L1311.29,196.37 L1311.38,196.69 L1311.47,197.02 L1311.57,197.35 L1311.68,197.68 L1311.78,198.80 L1311.89,199.90 L1312.01,200.68 L1312.13,201.34 L1312.25,201.92 L1312.38,202.45 L1312.51,202.94 L1312.64,203.40 L1312.78,203.84 L1312.92,204.25 L1313.07,204.65 L1313.22,205.02 L1313.37,205.39 L1313.52,205.74 L1313.68,206.08 L1313.85,206.41 L1314.01,206.73 L1314.18,207.05 L1314.35,207.35 L1314.53,207.64 L1314.71,207.93 L1314.89,208.21 L1315.07,208.49 L1315.26,208.75 L1315.45,209.01 L1315.64,209.27 L1315.84,209.52 L1316.04,209.76 L1316.24,210.00 L1316.45,210.23 L1316.65,210.46 L1316.86,210.68 L1317.08,210.90 L1317.29,211.12 L1317.51,211.32 L1317.73,211.53 L1317.95,211.73 L1318.17,211.92 L1318.40,212.12 L1318.63,212.30 L1318.86,212.49 L1319.09,212.67 L1319.33,212.84 L1319.57,213.01 L1319.80,213.18 L1320.05,213.34 L1320.29,213.50 L1320.53,213.66 L1320.78,213.81 L1321.03,213.95 L1321.28,214.10 L1321.53,214.24 L1321.78,214.38 L1322.04,214.51 L1322.29,214.64 L1322.55,214.76 L1322.81,214.88 L1323.07,215.00 L1323.33,215.12 L1323.59,215.23 L1323.85,215.34 L1324.12,215.44 L1324.38,215.54 L1324.65,215.64 L1324.92,215.73 L1325.19,215.82 L1325.46,215.91 L1325.73,215.99 L1326.00,216.07 L1326.27,216.15 L1326.55,216.22 L1326.82,216.29 L1327.10,216.36 L1327.37,216.42 L1327.65,216.48 L1327.93,216.53 L1328.20,216.58 L1328.48,216.63 L1328.76,216.68 L1329.04,216.72 L1329.32,216.76 L1329.60,216.79 L1329.88,216.83 L1330.16,216.85 L1330.44,216.88 L1330.72,216.90 L1331.00,216.92 L1331.28,216.93 L1331.56,216.94 L1331.84,216.95 L1332.13,216.95 L1332.41,216.96 L1332.69,216.95 L1332.97,216.95 L1333.25,216.94 L1333.53,216.93 L1333.81,216.91 L1334.09,216.89 L1334.38,216.87 L1334.66,216.84 L1334.94,216.81 L1335.22,216.78 L1335.49,216.74 L1335.77,216.70 L1336.05,216.66 L1336.33,216.61 L1336.61,216.56 L1336.88,216.51 L1337.16,216.45 L1337.44,216.39 L1337.71,216.32 L1337.99,216.26 L1338.26,216.19 L1338.53,216.11 L1338.80,216.03 L1339.08,215.95 L1339.35,215.87 L1339.62,215.78 L1339.88,215.69 L1340.15,215.59 L1340.42,215.49 L1340.68,215.39 L1340.95,215.28 L1341.21,215.18 L1341.47,215.06 L1341.73,214.95 L1341.99,214.83 L1342.25,214.70 L1342.50,214.57 L1342.76,214.44 L1343.01,214.31 L1343.26,214.17 L1343.51,214.03 L1343.76,213.88 L1344.01,213.73 L1344.25,213.58 L1344.49,213.42 L1344.74,213.26 L1344.98,213.10 L1345.21,212.93 L1345.45,212.75 L1345.68,212.58 L1345.91,212.39 L1346.14,212.21 L1346.37,212.02 L1346.59,211.83 L1346.82,211.63 L1347.04,211.43 L1347.25,211.22 L1347.47,211.01 L1347.68,210.79 L1347.89,210.57 L1348.10,210.34 L1348.31,210.11 L1348.51,209.88 L1348.71,209.63 L1348.90,209.39 L1349.10,209.13 L1349.29,208.87 L1349.48,208.61 L1349.66,208.34 L1349.85,208.06 L1350.02,207.77 L1350.20,207.48 L1350.37,207.18 L1350.54,206.87 L1350.71,206.55 L1350.87,206.22 L1351.03,205.89 L1351.19,205.54 L1351.34,205.17 L1351.49,204.80 L1351.64,204.40 L1351.78,203.99 L1351.92,203.56 L1352.05,203.11 L1352.18,202.62 L1352.31,202.09 L1352.43,201.52 L1352.55,200.87 L1352.67,200.10 L1352.78,199.06 L1352.89,197.84 L1352.99,197.52 L1353.09,197.19 L1353.19,196.86 L1353.28,196.53 L1353.37,196.21 L1353.45,195.88 L1353.53,195.56 L1353.61,195.23 L1353.68,194.91 L1353.75,194.59 L1353.81,194.26 L1353.87,193.94 L1353.92,193.62 L1353.98,193.31 L1354.02,192.99 L1354.06,192.68 L1354.10,192.36 L1354.13,192.05 L1354.16,191.74 L1354.19,191.43 L1354.21,191.13 L1354.22,190.82 L1354.24,190.52 L1354.24,190.22 L1354.25,189.92 L1354.24,189.63 L1354.24,189.34 L1354.23,189.05 L1354.22,188.76 L1354.20,188.47 L1354.17,188.19 L1354.15,187.91 L1354.12,187.64 L1354.08,187.37 L1354.04,187.10 L1354.00,186.83 L1353.95,186.57 L1353.90,186.31 L1353.85,186.05 L1353.79,185.80 L1353.72,185.55 L1353.66,185.31 L1353.58,185.07 L1353.51,184.83 L1353.43,184.60 L1353.35,184.37 L1353.26,184.14 L1353.17,183.92 L1353.08,183.71 L1352.98,183.49 L1352.88,183.29 L1352.78,183.08 L1352.67,182.88 L1352.56,182.69 L1352.45,182.50 L1352.33,182.31 L1352.21,182.13 L1352.09,181.96 L1351.96,181.79 L1351.83,181.62 L1351.70,181.46 L1351.57,181.30 L1351.43,181.15 L1351.29,181.01 L1351.15,180.86 L1351.01,180.73 L1350.86,180.60 L1350.71,180.47 L1350.56,180.35 L1350.41,180.24 L1350.25,180.13 L1350.10,180.02 L1349.94,179.92 L1349.78,179.83 L1349.62,179.74 L1349.45,179.66 L1349.29,179.58 L1349.12,179.51 L1348.95,179.44 L1348.79,179.38 L1348.62,179.33 L1348.45,179.28 L1348.27,179.24 L1348.10,179.20 L1347.93,179.17 L1347.76,179.14 L1347.58,179.12 L1347.41,179.10 L1347.24,179.09 L1347.06,179.09 L1346.89,179.09 L1346.71,179.10 L1346.54,179.11 L1346.36,179.13 L1346.19,179.15 L1346.02,179.18 L1345.85,179.22 L1345.67,179.26 L1345.50,179.30 L1345.33,179.36 L1345.16,179.42 L1345.00,179.48 L1344.83,179.55 L1344.66,179.62 L1344.50,179.70 L1344.34,179.79 L1344.17,179.88 L1344.02,179.98 L1343.86,180.08 L1343.70,180.18 L1343.55,180.30 L1343.39,180.42 L1343.24,180.54 L1343.10,180.67 L1342.95,180.80 L1342.81,180.94 L1342.67,181.08 L1342.53,181.23 L1342.39,181.39 L1342.26,181.55 L1342.13,181.71 L1342.00,181.88 L1341.88,182.05 L1341.75,182.23 L1341.63,182.41 L1341.52,182.60 L1341.41,182.80 L1341.30,182.99 L1341.19,183.19 L1341.09,183.40 L1340.99,183.61 L1340.89,183.83 L1340.80,184.05 L1340.71,184.27 L1340.63,184.50 L1340.55,184.73 L1340.47,184.96 L1340.40,185.20 L1340.33,185.45 L1340.26,185.69 L1340.20,185.94 L1340.14,186.20 L1340.09,186.46 L1340.04,186.72 L1339.99,186.98 L1339.95,187.25 L1339.91,187.52 L1339.88,187.80 L1339.85,188.08 L1339.82,188.36 L1339.80,188.64 L1339.78,188.93 L1339.77,189.22 L1339.76,189.51 L1339.76,189.80 L1339.76,190.10 L1339.76,190.40 L1339.77,190.70 L1339.78,191.00 L1339.80,191.31 L1339.82,191.62 L1339.85,191.93 L1339.88,192.24 L1339.92,192.55 L1339.95,192.87 L1340.00,193.19 L1340.04,193.50 L1340.10,193.82 L1340.15,194.15 L1340.21,194.47 L1340.28,194.79 L1340.35,195.12 L1340.42,195.44 L1340.50,195.77 L1340.58,196.09 L1340.66,196.42 L1340.75,196.75 L1340.85,197.08 L1340.94,197.41 L1341.05,197.73 L1341.15,198.06 L1341.26,199.53 L1341.37,200.46 L1341.49,201.19 L1341.61,201.82 L1341.74,202.38 L1341.87,202.90 L1342.00,203.37 L1342.14,203.83 L1342.28,204.25 L1342.42,204.66 L1342.57,205.05 L1342.72,205.42 L1342.87,205.78 L1343.03,206.13 L1343.19,206.47 L1343.35,206.80 L1343.52,207.11 L1343.69,207.42 L1343.87,207.72 L1344.04,208.01 L1344.22,208.30 L1344.41,208.58 L1344.59,208.85 L1344.78,209.11 L1344.98,209.37 L1345.17,209.62 L1345.37,209.87 L1345.57,210.11 L1345.77,210.35 L1345.98,210.58 L1346.19,210.81 L1346.40,211.03 L1346.61,211.24 L1346.83,211.46 L1347.05,211.66 L1347.27,211.87 L1347.49,212.06 L1347.72,212.26 L1347.95,212.45 L1348.18,212.63 L1348.41,212.82 L1348.64,212.99 L1348.88,213.17 L1349.12,213.34 L1349.36,213.50 L1349.60,213.66 L1349.85,213.82 L1350.09,213.97 L1350.34,214.12 L1350.59,214.27 L1350.84,214.41 L1351.09,214.55 L1351.35,214.69 L1351.60,214.82 L1351.86,214.95 L1352.12,215.07 L1352.38,215.19 L1352.64,215.31 L1352.90,215.42 L1353.16,215.53 L1353.43,215.64 L1353.70,215.74 L1353.96,215.84 L1354.23,215.94 L1354.50,216.03 L1354.77,216.12 L1355.04,216.20 L1355.31,216.29 L1355.59,216.36 L1355.86,216.44 L1356.13,216.51 L1356.41,216.58 L1356.68,216.64 L1356.96,216.70 L1357.24,216.76 L1357.52,216.82 L1357.79,216.87 L1358.07,216.91 L1358.35,216.96 L1358.63,217.00 L1358.91,217.04 L1359.19,217.07 L1359.47,217.10 L1359.75,217.13 L1360.04,217.15 L1360.32,217.17 L1360.60,217.19 L1360.88,217.20 L1361.16,217.21 L1361.45,217.22 L1361.73,217.22 L1362.01,217.22 L1362.29,217.22 L1362.57,217.21 L1362.86,217.20 L1363.14,217.18 L1363.42,217.17 L1363.70,217.15 L1363.98,217.12 L1364.26,217.09 L1364.54,217.06 L1364.82,217.03 L1365.10,216.99 L1365.38,216.95 L1365.66,216.90 L1365.94,216.86 L1366.22,216.80 L1366.50,216.75 L1366.77,216.69 L1367.05,216.63 L1367.33,216.56 L1367.60,216.50 L1367.87,216.42 L1368.15,216.35 L1368.42,216.27 L1368.69,216.19 L1368.96,216.10 L1369.23,216.01 L1369.50,215.92 L1369.77,215.82 L1370.03,215.72 L1370.30,215.62 L1370.56,215.51 L1370.83,215.40 L1371.09,215.28 L1371.35,215.17 L1371.61,215.04 L1371.87,214.92 L1372.12,214.79 L1372.38,214.66 L1372.63,214.52 L1372.88,214.38 L1373.13,214.24 L1373.38,214.09 L1373.63,213.94 L1373.87,213.79 L1374.11,213.63 L1374.36,213.46 L1374.59,213.30 L1374.83,213.13 L1375.07,212.95 L1375.30,212.77 L1375.53,212.59 L1375.76,212.40 L1375.99,212.21 L1376.21,212.02 L1376.43,211.82 L1376.65,211.61 L1376.87,211.41 L1377.09,211.19 L1377.30,210.97 L1377.51,210.75 L1377.72,210.52 L1377.92,210.29 L1378.12,210.05 L1378.32,209.81 L1378.52,209.56 L1378.71,209.30 L1378.90,209.04 L1379.09,208.78 L1379.28,208.50 L1379.46,208.22 L1379.64,207.93 L1379.81,207.64 L1379.99,207.33 L1380.15,207.02 L1380.32,206.70 L1380.48,206.37 L1380.64,206.02 L1380.80,205.67 L1380.95,205.30 L1381.10,204.92 L1381.24,204.52 L1381.39,204.10 L1381.52,203.66 L1381.66,203.20 L1381.79,202.70 L1381.91,202.16 L1382.04,201.56 L1382.16,200.87 L1382.27,200.04 L1382.38,198.68 L1382.49,197.99 L1382.59,197.66 L1382.69,197.33 L1382.79,197.01 L1382.88,196.68 L1382.97,196.35 L1383.05,196.03 L1383.13,195.70 L1383.20,195.38 L1383.28,195.06 L1383.34,194.73 L1383.40,194.41 L1383.46,194.09 L1383.52,193.77 L1383.57,193.46 L1383.61,193.14 L1383.65,192.83 L1383.69,192.51 L1383.72,192.20 L1383.75,191.89 L1383.77,191.58 L1383.79,191.28 L1383.81,190.98 L1383.82,190.67 L1383.82,190.38 L1383.83,190.08 L1383.82,189.79 L1383.82,189.49 L1383.81,189.21 L1383.79,188.92 L1383.77,188.64 L1383.75,188.36 L1383.72,188.08 L1383.69,187.80 L1383.65,187.53 L1383.61,187.26 L1383.57,187.00 L1383.52,186.74 L1383.47,186.48 L1383.41,186.23 L1383.35,185.98 L1383.29,185.73 L1383.22,185.49 L1383.15,185.25 L1383.07,185.01 L1383.00,184.78 L1382.91,184.55 L1382.83,184.33 L1382.73,184.11 L1382.64,183.89 L1382.54,183.68 L1382.44,183.48 L1382.34,183.27 L1382.23,183.08 L1382.12,182.88 L1382.01,182.70 L1381.89,182.51 L1381.77,182.33 L1381.65,182.16 L1381.52,181.99 L1381.39,181.83 L1381.26,181.67 L1381.12,181.51 L1380.99,181.36 L1380.85,181.22 L1380.71,181.08 L1380.56,180.94 L1380.42,180.82 L1380.27,180.69 L1380.12,180.57 L1379.96,180.46 L1379.81,180.35 L1379.65,180.25 L1379.49,180.15 L1379.33,180.06 L1379.17,179.98 L1379.01,179.89 L1378.84,179.82 L1378.68,179.75 L1378.51,179.69 L1378.34,179.63 L1378.17,179.57 L1378.00,179.53 L1377.83,179.49 L1377.66,179.45 L1377.49,179.42 L1377.32,179.39 L1377.14,179.37 L1376.97,179.36 L1376.80,179.35 L1376.62,179.35 L1376.45,179.35 L1376.28,179.36 L1376.10,179.38 L1375.93,179.40 L1375.76,179.43 L1375.58,179.46 L1375.41,179.50 L1375.24,179.54 L1375.07,179.59 L1374.90,179.64 L1374.74,179.70 L1374.57,179.77 L1374.40,179.84 L1374.24,179.91 L1374.07,180.00 L1373.91,180.08 L1373.75,180.18 L1373.59,180.28 L1373.44,180.38 L1373.28,180.49 L1373.13,180.60 L1372.98,180.72 L1372.83,180.85 L1372.68,180.98 L1372.54,181.11 L1372.40,181.26 L1372.26,181.40 L1372.12,181.55 L1371.99,181.71 L1371.86,181.87 L1371.73,182.04 L1371.60,182.21 L1371.48,182.38 L1371.36,182.56 L1371.24,182.75 L1371.13,182.94 L1371.02,183.13 L1370.91,183.33 L1370.81,183.53 L1370.70,183.74 L1370.61,183.95 L1370.51,184.17 L1370.42,184.39 L1370.34,184.61 L1370.25,184.84 L1370.17,185.08 L1370.10,185.31 L1370.03,185.55 L1369.96,185.80 L1369.90,186.05 L1369.84,186.30 L1369.78,186.56 L1369.73,186.82 L1369.68,187.08 L1369.64,187.34 L1369.60,187.61 L1369.56,187.89 L1369.53,188.16 L1369.50,188.44 L1369.48,188.72 L1369.46,189.01 L1369.45,189.30 L1369.44,189.59 L1369.43,189.88 L1369.43,190.17 L1369.43,190.47 L1369.44,190.77 L1369.45,191.07 L1369.46,191.38 L1369.48,191.69 L1369.51,192.00 L1369.53,192.31 L1369.57,192.62 L1369.60,192.93 L1369.65,193.25 L1369.69,193.57 L1369.74,193.88 L1369.80,194.21 L1369.85,194.53 L1369.92,194.85 L1369.98,195.17 L1370.05,195.50 L1370.13,195.82 L1370.21,196.15 L1370.29,196.48 L1370.38,196.80 L1370.47,197.13 L1370.57,197.46 L1370.67,197.79 L1370.77,198.12 L1370.88,198.81 L1370.99,200.17 L1371.11,201.01 L1371.22,201.69 L1371.35,202.29 L1371.47,202.84 L1371.61,203.34 L1371.74,203.81 L1371.88,204.25 L1372.02,204.67 L1372.17,205.07 L1372.32,205.45 L1372.47,205.82 L1372.62,206.18 L1372.78,206.52 L1372.95,206.85 L1373.11,207.18 L1373.28,207.49 L1373.45,207.79 L1373.63,208.09 L1373.81,208.38 L1373.99,208.66 L1374.18,208.94 L1374.37,209.21 L1374.56,209.47 L1374.75,209.73 L1374.95,209.98 L1375.15,210.22 L1375.35,210.46 L1375.56,210.70 L1375.76,210.93 L1375.97,211.15 L1376.19,211.37 L1376.40,211.59 L1376.62,211.80 L1376.84,212.00 L1377.06,212.20 L1377.29,212.40 L1377.52,212.59 L1377.75,212.78 L1377.98,212.96 L1378.21,213.14 L1378.45,213.32 L1378.68,213.49 L1378.92,213.66 L1379.17,213.82 L1379.41,213.98 L1379.66,214.14 L1379.90,214.29 L1380.15,214.44 L1380.40,214.59 L1380.65,214.73 L1380.91,214.87 L1381.16,215.00 L1381.42,215.13 L1381.68,215.26 L1381.94,215.38 L1382.20,215.50 L1382.46,215.61 L1382.72,215.73 L1382.99,215.84 L1383.26,215.94 L1383.52,216.04 L1383.79,216.14 L1384.06,216.24 L1384.33,216.33 L1384.60,216.41 L1384.87,216.50 L1385.15,216.58 L1385.42,216.66 L1385.69,216.73 L1385.97,216.80 L1386.25,216.87 L1386.52,216.93 L1386.80,216.99 L1387.08,217.05 L1387.36,217.10 L1387.64,217.15 L1387.92,217.19 L1388.20,217.24 L1388.48,217.28 L1388.76,217.31 L1389.04,217.34 L1389.32,217.37 L1389.60,217.40 L1389.88,217.42 L1390.17,217.44 L1390.45,217.46 L1390.73,217.47 L1391.01,217.48 L1391.30,217.48 L1391.58,217.48 L1391.86,217.48 L1392.15,217.48 L1392.43,217.47 L1392.71,217.46 L1392.99,217.44 L1393.28,217.42 L1393.56,217.40 L1393.84,217.38 L1394.12,217.35 L1394.40,217.31 L1394.68,217.28 L1394.96,217.24 L1395.24,217.20 L1395.52,217.15 L1395.80,217.10 L1396.08,217.05 L1396.36,216.99 L1396.64,216.93 L1396.91,216.87 L1397.19,216.80 L1397.46,216.73 L1397.74,216.66 L1398.01,216.58 L1398.28,216.50 L1398.56,216.42 L1398.83,216.33 L1399.10,216.24 L1399.37,216.15 L1399.63,216.05 L1399.90,215.95 L1400.17,215.84 L1400.43,215.73 L1400.69,215.62 L1400.96,215.51 L1401.22,215.39 L1401.48,215.26 L1401.73,215.14 L1401.99,215.01 L1402.25,214.87 L1402.50,214.74 L1402.75,214.59 L1403.00,214.45 L1403.25,214.30 L1403.50,214.15 L1403.74,213.99 L1403.98,213.83 L1404.22,213.67 L1404.46,213.50 L1404.70,213.33 L1404.94,213.15 L1405.17,212.97 L1405.40,212.79 L1405.63,212.60 L1405.86,212.41 L1406.08,212.21 L1406.30,212.01 L1406.52,211.80 L1406.74,211.59 L1406.96,211.38 L1407.17,211.16 L1407.38,210.93 L1407.58,210.70 L1407.79,210.47 L1407.99,210.23 L1408.19,209.98 L1408.39,209.73 L1408.58,209.47 L1408.77,209.21 L1408.96,208.94 L1409.14,208.66 L1409.32,208.38 L1409.50,208.09 L1409.68,207.79 L1409.85,207.48 L1410.02,207.17 L1410.18,206.84 L1410.34,206.51 L1410.50,206.16 L1410.66,205.80 L1410.81,205.43 L1410.96,205.04 L1411.10,204.64 L1411.24,204.21 L1411.38,203.76 L1411.51,203.28 L1411.64,202.77 L1411.77,202.21 L1411.89,201.59 L1412.01,200.86 L1412.12,199.92 L1412.24,198.46 L1412.34,198.13 L1412.44,197.81 L1412.54,197.48 L1412.64,197.15 L1412.73,196.82 L1412.81,196.50 L1412.90,196.17 L1412.98,195.85 L1413.05,195.52 L1413.12,195.20 L1413.18,194.88 L1413.25,194.56 L1413.30,194.24 L1413.36,193.92 L1413.40,193.60 L1413.45,193.29 L1413.49,192.98 L1413.52,192.66 L1413.56,192.35 L1413.58,192.04 L1413.61,191.74 L1413.63,191.43 L1413.64,191.13 L1413.65,190.83 L1413.65,190.53 L1413.66,190.24 L1413.65,189.94 L1413.65,189.65 L1413.63,189.36 L1413.62,189.08 L1413.60,188.80 L1413.57,188.52 L1413.55,188.24 L1413.51,187.97 L1413.48,187.70 L1413.44,187.43 L1413.39,187.17 L1413.34,186.91 L1413.29,186.65 L1413.23,186.40 L1413.17,186.15 L1413.11,185.90 L1413.04,185.66 L1412.97,185.42 L1412.89,185.19 L1412.81,184.96 L1412.73,184.73 L1412.64,184.51 L1412.55,184.29 L1412.45,184.08 L1412.35,183.87 L1412.25,183.67 L1412.15,183.47 L1412.04,183.27 L1411.93,183.08 L1411.81,182.89 L1411.70,182.71 L1411.58,182.53 L1411.45,182.36 L1411.33,182.19 L1411.20,182.03 L1411.07,181.87 L1410.93,181.72 L1410.79,181.57 L1410.65,181.43 L1410.51,181.29 L1410.37,181.16 L1410.22,181.03 L1410.07,180.91 L1409.92,180.80 L1409.77,180.68 L1409.61,180.58 L1409.46,180.48 L1409.30,180.38 L1409.14,180.29 L1408.98,180.21 L1408.81,180.13 L1408.65,180.06 L1408.48,179.99 L1408.32,179.93 L1408.15,179.87 L1407.98,179.82 L1407.81,179.77 L1407.64,179.74 L1407.47,179.70 L1407.30,179.67 L1407.13,179.65 L1406.95,179.63 L1406.78,179.62 L1406.61,179.62 L1406.43,179.62 L1406.26,179.62 L1406.09,179.63 L1405.92,179.65 L1405.74,179.67 L1405.57,179.70 L1405.40,179.73 L1405.23,179.77 L1405.06,179.82 L1404.89,179.87 L1404.72,179.93 L1404.56,179.99 L1404.39,180.06 L1404.23,180.13 L1404.06,180.21 L1403.90,180.29 L1403.74,180.38 L1403.58,180.48 L1403.42,180.58 L1403.27,180.68 L1403.12,180.79 L1402.96,180.91 L1402.82,181.03 L1402.67,181.16 L1402.52,181.29 L1402.38,181.43 L1402.24,181.57 L1402.10,181.72 L1401.97,181.87 L1401.83,182.03 L1401.70,182.19 L1401.58,182.36 L1401.45,182.53 L1401.33,182.71 L1401.21,182.89 L1401.10,183.08 L1400.99,183.27 L1400.88,183.47 L1400.77,183.67 L1400.67,183.87 L1400.57,184.08 L1400.48,184.29 L1400.38,184.51 L1400.30,184.74 L1400.21,184.96 L1400.13,185.19 L1400.05,185.43 L1399.98,185.67 L1399.91,185.91 L1399.84,186.15 L1399.78,186.40 L1399.73,186.66 L1399.67,186.91 L1399.62,187.17 L1399.58,187.44 L1399.53,187.71 L1399.50,187.98 L1399.46,188.25 L1399.43,188.53 L1399.41,188.81 L1399.39,189.09 L1399.37,189.38 L1399.36,189.66 L1399.35,189.96 L1399.35,190.25 L1399.35,190.55 L1399.35,190.84 L1399.36,191.15 L1399.37,191.45 L1399.39,191.75 L1399.41,192.06 L1399.44,192.37 L1399.47,192.68 L1399.51,193.00 L1399.54,193.31 L1399.59,193.63 L1399.64,193.95 L1399.69,194.27 L1399.74,194.59 L1399.80,194.91 L1399.87,195.23 L1399.94,195.55 L1400.01,195.88 L1400.09,196.21 L1400.17,196.53 L1400.26,196.86 L1400.35,197.19 L1400.44,197.52 L1400.54,197.84 L1400.64,198.17 L1400.75,198.50 L1400.86,199.72 L1400.97,200.77 L1401.09,201.54 L1401.21,202.18 L1401.33,202.76 L1401.46,203.29 L1401.60,203.78 L1401.73,204.23 L1401.87,204.67 L1402.02,205.08 L1402.16,205.47 L1402.32,205.85 L1402.47,206.21 L1402.63,206.57 L1402.79,206.91 L1402.95,207.24 L1403.12,207.55 L1403.29,207.87 L1403.47,208.17 L1403.65,208.46 L1403.83,208.75 L1404.01,209.03 L1404.20,209.30 L1404.39,209.57 L1404.58,209.83 L1404.78,210.08 L1404.98,210.33 L1405.18,210.57 L1405.38,210.81 L1405.59,211.05 L1405.80,211.27 L1406.01,211.50 L1406.22,211.71 L1406.44,211.93 L1406.66,212.13 L1406.88,212.34 L1407.11,212.54 L1407.33,212.73 L1407.56,212.92 L1407.79,213.11 L1408.03,213.29 L1408.26,213.47 L1408.50,213.65 L1408.74,213.82 L1408.98,213.98 L1409.22,214.15 L1409.47,214.31 L1409.71,214.46 L1409.96,214.61 L1410.21,214.76 L1410.47,214.90 L1410.72,215.04 L1410.97,215.18 L1411.23,215.31 L1411.49,215.44 L1411.75,215.57 L1412.01,215.69 L1412.27,215.81 L1412.53,215.92 L1412.80,216.03 L1413.06,216.14 L1413.33,216.24 L1413.60,216.34 L1413.87,216.44 L1414.14,216.53 L1414.41,216.62 L1414.68,216.71 L1414.96,216.79 L1415.23,216.87 L1415.50,216.95 L1415.78,217.02 L1416.06,217.09 L1416.33,217.15 L1416.61,217.22 L1416.89,217.27 L1417.17,217.33 L1417.45,217.38 L1417.73,217.43 L1418.01,217.47 L1418.29,217.52 L1418.57,217.55 L1418.85,217.59 L1419.13,217.62 L1419.42,217.65 L1419.70,217.67 L1419.98,217.69 L1420.27,217.71 L1420.55,217.72 L1420.83,217.74 L1421.12,217.74 L1421.40,217.75 L1421.68,217.75 L1421.97,217.74 L1422.25,217.74 L1422.53,217.73 L1422.82,217.72 L1423.10,217.70 L1423.38,217.68 L1423.67,217.66 L1423.95,217.63 L1424.23,217.60 L1424.51,217.57 L1424.79,217.53 L1425.07,217.49 L1425.35,217.44 L1425.63,217.40 L1425.91,217.35 L1426.19,217.29 L1426.47,217.24 L1426.75,217.17 L1427.03,217.11 L1427.30,217.04 L1427.58,216.97 L1427.85,216.90 L1428.13,216.82 L1428.40,216.74 L1428.67,216.65 L1428.94,216.56 L1429.21,216.47 L1429.48,216.37 L1429.75,216.28 L1430.02,216.17 L1430.28,216.07 L1430.55,215.96 L1430.81,215.84 L1431.07,215.73 L1431.34,215.61 L1431.59,215.48 L1431.85,215.35 L1432.11,215.22 L1432.36,215.09 L1432.62,214.95 L1432.87,214.81 L1433.12,214.66 L1433.37,214.51 L1433.62,214.36 L1433.86,214.20 L1434.10,214.04 L1434.34,213.87 L1434.58,213.70 L1434.82,213.53 L1435.06,213.35 L1435.29,213.17 L1435.52,212.98 L1435.75,212.79 L1435.98,212.60 L1436.20,212.40 L1436.42,212.20 L1436.64,211.99 L1436.86,211.78 L1437.07,211.56 L1437.29,211.34 L1437.50,211.11 L1437.70,210.88 L1437.91,210.65 L1438.11,210.40 L1438.31,210.16 L1438.50,209.90 L1438.70,209.64 L1438.89,209.38 L1439.07,209.10 L1439.26,208.83 L1439.44,208.54 L1439.61,208.25 L1439.79,207.94 L1439.96,207.63 L1440.13,207.32 L1440.29,206.99 L1440.46,206.65 L1440.61,206.30 L1440.77,205.93 L1440.92,205.55 L1441.07,205.16 L1441.21,204.75 L1441.35,204.31 L1441.49,203.85 L1441.62,203.37 L1441.75,202.84 L1441.87,202.26 L1442.00,201.60 L1442.11,200.82 L1442.23,199.72 L1442.34,198.60 L1442.44,198.28 L1442.54,197.95 L1442.64,197.62 L1442.74,197.30 L1442.83,196.97 L1442.91,196.64 L1442.99,196.32 L1443.07,195.99 L1443.14,195.67 L1443.21,195.35 L1443.28,195.03 L1443.34,194.71 L1443.39,194.39 L1443.45,194.07 L1443.49,193.75 L1443.54,193.44 L1443.58,193.13 L1443.61,192.81 L1443.64,192.50 L1443.67,192.20 L1443.69,191.89 L1443.71,191.59 L1443.72,191.28 L1443.73,190.99 L1443.74,190.69 L1443.74,190.39 L1443.73,190.10 L1443.72,189.81 L1443.71,189.52 L1443.70,189.24 L1443.67,188.96 L1443.65,188.68 L1443.62,188.41 L1443.59,188.13 L1443.55,187.87 L1443.51,187.60 L1443.46,187.34 L1443.41,187.08 L1443.36,186.82 L1443.30,186.57 L1443.24,186.32 L1443.17,186.08 L1443.10,185.84 L1443.03,185.60 L1442.95,185.37 L1442.87,185.14 L1442.79,184.92 L1442.70,184.70 L1442.61,184.48 L1442.51,184.27 L1442.42,184.06 L1442.31,183.86 L1442.21,183.66 L1442.10,183.46 L1441.99,183.27 L1441.87,183.09 L1441.76,182.91 L1441.63,182.73 L1441.51,182.56 L1441.38,182.40 L1441.25,182.24 L1441.12,182.08 L1440.99,181.93 L1440.85,181.78 L1440.71,181.64 L1440.57,181.51 L1440.42,181.38 L1440.28,181.25 L1440.13,181.13 L1439.98,181.02 L1439.82,180.91 L1439.67,180.81 L1439.51,180.71 L1439.35,180.61 L1439.19,180.53 L1439.03,180.44 L1438.87,180.37 L1438.71,180.30 L1438.54,180.23 L1438.37,180.17 L1438.21,180.12 L1438.04,180.07 L1437.87,180.02 L1437.70,179.99 L1437.53,179.95 L1437.36,179.93 L1437.19,179.91 L1437.01,179.89 L1436.84,179.88 L1436.67,179.88 L1436.50,179.88 L1436.32,179.89 L1436.15,179.90 L1435.98,179.92 L1435.81,179.95 L1435.64,179.98 L1435.47,180.01 L1435.30,180.05 L1435.13,180.10 L1434.96,180.15 L1434.79,180.21 L1434.63,180.28 L1434.46,180.35 L1434.30,180.42 L1434.14,180.50 L1433.98,180.59 L1433.82,180.68 L1433.66,180.78 L1433.51,180.88 L1433.35,180.99 L1433.20,181.10 L1433.05,181.22 L1432.90,181.34 L1432.76,181.47 L1432.61,181.61 L1432.47,181.74 L1432.33,181.89 L1432.20,182.04 L1432.06,182.19 L1431.93,182.35 L1431.80,182.52 L1431.68,182.69 L1431.56,182.86 L1431.44,183.04 L1431.32,183.22 L1431.21,183.41 L1431.10,183.61 L1430.99,183.80 L1430.89,184.00 L1430.79,184.21 L1430.69,184.42 L1430.60,184.64 L1430.51,184.86 L1430.42,185.08 L1430.34,185.31 L1430.26,185.54 L1430.18,185.78 L1430.11,186.02 L1430.04,186.26 L1429.98,186.51 L1429.92,186.76 L1429.87,187.01 L1429.81,187.27 L1429.77,187.53 L1429.72,187.80 L1429.68,188.07 L1429.65,188.34 L1429.62,188.61 L1429.59,188.89 L1429.57,189.17 L1429.55,189.46 L1429.53,189.74 L1429.52,190.03 L1429.52,190.33 L1429.52,190.62 L1429.52,190.92 L1429.53,191.22 L1429.54,191.52 L1429.55,191.82 L1429.57,192.13 L1429.60,192.44 L1429.62,192.75 L1429.66,193.06 L1429.69,193.37 L1429.74,193.69 L1429.78,194.01 L1429.83,194.33 L1429.89,194.65 L1429.94,194.97 L1430.01,195.29 L1430.07,195.61 L1430.15,195.94 L1430.22,196.26 L1430.30,196.59 L1430.38,196.92 L1430.47,197.24 L1430.56,197.57 L1430.66,197.90 L1430.76,198.23 L1430.86,198.56 L1430.97,198.89 L1431.08,200.42 L1431.20,201.33 L1431.32,202.05 L1431.44,202.66 L1431.57,203.22 L1431.70,203.73 L1431.84,204.21 L1431.98,204.66 L1432.12,205.08 L1432.26,205.49 L1432.41,205.88 L1432.57,206.25 L1432.72,206.61 L1432.88,206.95 L1433.05,207.29 L1433.21,207.62 L1433.38,207.93 L1433.56,208.24 L1433.73,208.54 L1433.91,208.83 L1434.09,209.12 L1434.28,209.39 L1434.47,209.66 L1434.66,209.93 L1434.86,210.19 L1435.05,210.44 L1435.25,210.68 L1435.46,210.93 L1435.66,211.16 L1435.87,211.39 L1436.08,211.62 L1436.30,211.84 L1436.51,212.06 L1436.73,212.27 L1436.95,212.47 L1437.18,212.68 L1437.40,212.87 L1437.63,213.07 L1437.86,213.26 L1438.09,213.44 L1438.33,213.62 L1438.56,213.80 L1438.80,213.97 L1439.04,214.14 L1439.29,214.31 L1439.53,214.47 L1439.78,214.63 L1440.02,214.78 L1440.27,214.93 L1440.53,215.08 L1440.78,215.22 L1441.03,215.36 L1441.29,215.49 L1441.55,215.62 L1441.81,215.75 L1442.07,215.87 L1442.33,215.99 L1442.59,216.11 L1442.86,216.22 L1443.12,216.33 L1443.39,216.44 L1443.66,216.54 L1443.93,216.64 L1444.20,216.74 L1444.47,216.83 L1444.74,216.92 L1445.01,217.00 L1445.29,217.08 L1445.56,217.16 L1445.84,217.24 L1446.12,217.31 L1446.39,217.38 L1446.67,217.44 L1446.95,217.50 L1447.23,217.56 L1447.51,217.61 L1447.79,217.66 L1448.07,217.71 L1448.35,217.75 L1448.63,217.79 L1448.92,217.83 L1449.20,217.86 L1449.48,217.89 L1449.76,217.92 L1450.05,217.94 L1450.33,217.96 L1450.62,217.98 L1450.90,217.99 L1451.18,218.00 L1451.47,218.01 L1451.75,218.01 L1452.04,218.01 L1452.32,218.01 L1452.60,218.00 L1452.89,217.99 L1453.17,217.97 L1453.46,217.96 L1453.74,217.93 L1454.02,217.91 L1454.31,217.88 L1454.59,217.85 L1454.87,217.82 L1455.15,217.78 L1455.43,217.74 L1455.72,217.69 L1456.00,217.64 L1456.28,217.59 L1456.56,217.54 L1456.83,217.48 L1457.11,217.42 L1457.39,217.35 L1457.67,217.28 L1457.94,217.21 L1458.22,217.13 L1458.49,217.05 L1458.77,216.97 L1459.04,216.88 L1459.31,216.79 L1459.58,216.70 L1459.85,216.60 L1460.12,216.50 L1460.39,216.40 L1460.65,216.29 L1460.92,216.18 L1461.18,216.07 L1461.44,215.95 L1461.70,215.83 L1461.96,215.70 L1462.22,215.57 L1462.48,215.44 L1462.73,215.30 L1462.99,215.16 L1463.24,215.02 L1463.49,214.87 L1463.74,214.72 L1463.98,214.56 L1464.23,214.40 L1464.47,214.24 L1464.71,214.07 L1464.95,213.90 L1465.19,213.73 L1465.43,213.55 L1465.66,213.37 L1465.89,213.18 L1466.12,212.99 L1466.35,212.79 L1466.57,212.59 L1466.79,212.39 L1467.01,212.18 L1467.23,211.96 L1467.44,211.75 L1467.65,211.52 L1467.86,211.29 L1468.07,211.06 L1468.27,210.82 L1468.47,210.58 L1468.67,210.33 L1468.87,210.07 L1469.06,209.81 L1469.25,209.54 L1469.44,209.27 L1469.62,208.99 L1469.80,208.70 L1469.98,208.40 L1470.15,208.10 L1470.32,207.78 L1470.49,207.46 L1470.66,207.13 L1470.82,206.78 L1470.97,206.43 L1471.13,206.06 L1471.28,205.68 L1471.42,205.28 L1471.57,204.86 L1471.71,204.41 L1471.84,203.94 L1471.98,203.44 L1472.10,202.90 L1472.23,202.29 L1472.35,201.60 L1472.47,200.74 L1472.58,199.08 L1472.69,198.75 L1472.79,198.42 L1472.90,198.09 L1472.99,197.77 L1473.09,197.44 L1473.17,197.12 L1473.26,196.79 L1473.34,196.46 L1473.42,196.14 L1473.49,195.82 L1473.56,195.50 L1473.62,195.17 L1473.68,194.85 L1473.74,194.54 L1473.79,194.22 L1473.83,193.90 L1473.88,193.59 L1473.91,193.28 L1473.95,192.96 L1473.98,192.66 L1474.00,192.35 L1474.03,192.04 L1474.04,191.74 L1474.05,191.44 L1474.06,191.14 L1474.07,190.84 L1474.07,190.55 L1474.06,190.26 L1474.05,189.97 L1474.04,189.69 L1474.02,189.40 L1474.00,189.12 L1473.97,188.84 L1473.94,188.57 L1473.91,188.30 L1473.87,188.03 L1473.83,187.77 L1473.78,187.51 L1473.73,187.25 L1473.68,187.00 L1473.62,186.74 L1473.56,186.50 L1473.49,186.26 L1473.42,186.02 L1473.35,185.78 L1473.27,185.55 L1473.19,185.32 L1473.10,185.10 L1473.01,184.88 L1472.92,184.67 L1472.83,184.46 L1472.73,184.25 L1472.62,184.05 L1472.52,183.85 L1472.41,183.66 L1472.30,183.47 L1472.18,183.29 L1472.06,183.11 L1471.94,182.94 L1471.82,182.77 L1471.69,182.60 L1471.56,182.44 L1471.43,182.29 L1471.29,182.14 L1471.16,182.00 L1471.02,181.86 L1470.87,181.72 L1470.73,181.60 L1470.58,181.47 L1470.43,181.35 L1470.28,181.24 L1470.13,181.13 L1469.97,181.03 L1469.82,180.94 L1469.66,180.84 L1469.50,180.76 L1469.34,180.68 L1469.18,180.60 L1469.01,180.54 L1468.85,180.47 L1468.68,180.41 L1468.51,180.36 L1468.35,180.31 L1468.18,180.27 L1468.01,180.24 L1467.84,180.21 L1467.67,180.18 L1467.50,180.16 L1467.32,180.15 L1467.15,180.14 L1466.98,180.14 L1466.81,180.15 L1466.64,180.16 L1466.47,180.17 L1466.30,180.19 L1466.13,180.22 L1465.96,180.25 L1465.79,180.29 L1465.62,180.33 L1465.45,180.38 L1465.28,180.44 L1465.12,180.50 L1464.95,180.57 L1464.79,180.64 L1464.63,180.71 L1464.47,180.80 L1464.31,180.88 L1464.15,180.98 L1463.99,181.08 L1463.84,181.18 L1463.68,181.29 L1463.53,181.41 L1463.39,181.53 L1463.24,181.65 L1463.09,181.78 L1462.95,181.92 L1462.81,182.06 L1462.68,182.21 L1462.54,182.36 L1462.41,182.51 L1462.28,182.68 L1462.15,182.84 L1462.03,183.01 L1461.91,183.19 L1461.79,183.37 L1461.68,183.56 L1461.57,183.75 L1461.46,183.94 L1461.35,184.14 L1461.25,184.34 L1461.15,184.55 L1461.06,184.76 L1460.97,184.98 L1460.88,185.20 L1460.79,185.43 L1460.71,185.66 L1460.64,185.89 L1460.56,186.13 L1460.49,186.37 L1460.43,186.61 L1460.37,186.86 L1460.31,187.12 L1460.26,187.37 L1460.21,187.63 L1460.16,187.89 L1460.12,188.16 L1460.08,188.43 L1460.05,188.70 L1460.02,188.98 L1460.00,189.26 L1459.98,189.54 L1459.96,189.83 L1459.95,190.11 L1459.94,190.40 L1459.93,190.70 L1459.94,190.99 L1459.94,191.29 L1459.95,191.59 L1459.96,191.89 L1459.98,192.20 L1460.00,192.51 L1460.03,192.81 L1460.06,193.13 L1460.10,193.44 L1460.13,193.75 L1460.18,194.07 L1460.23,194.39 L1460.28,194.71 L1460.34,195.03 L1460.40,195.35 L1460.46,195.67 L1460.53,195.99 L1460.60,196.32 L1460.68,196.64 L1460.76,196.97 L1460.85,197.30 L1460.94,197.63 L1461.03,197.95 L1461.13,198.28 L1461.23,198.61 L1461.34,198.94 L1461.45,199.81 L1461.56,201.05 L1461.68,201.87 L1461.80,202.54 L1461.93,203.14 L1462.06,203.68 L1462.19,204.17 L1462.33,204.64 L1462.47,205.08 L1462.61,205.50 L1462.76,205.89 L1462.91,206.28 L1463.07,206.64 L1463.23,207.00 L1463.39,207.34 L1463.55,207.67 L1463.72,208.00 L1463.89,208.31 L1464.07,208.61 L1464.25,208.91 L1464.43,209.20 L1464.61,209.48 L1464.80,209.76 L1464.99,210.02 L1465.19,210.29 L1465.38,210.54 L1465.58,210.79 L1465.78,211.04 L1465.99,211.28 L1466.20,211.51 L1466.41,211.74 L1466.62,211.96 L1466.83,212.18 L1467.05,212.40 L1467.27,212.61 L1467.49,212.81 L1467.72,213.01 L1467.95,213.21 L1468.18,213.40 L1468.41,213.59 L1468.64,213.77 L1468.88,213.95 L1469.12,214.13 L1469.36,214.30 L1469.60,214.47 L1469.84,214.63 L1470.09,214.79 L1470.34,214.95 L1470.59,215.10 L1470.84,215.25 L1471.09,215.39 L1471.34,215.53 L1471.60,215.67 L1471.86,215.80 L1472.12,215.93 L1472.38,216.06 L1472.64,216.18 L1472.90,216.30 L1473.17,216.42 L1473.43,216.53 L1473.70,216.64 L1473.97,216.74 L1474.24,216.84 L1474.51,216.94 L1474.78,217.04 L1475.05,217.13 L1475.32,217.21 L1475.60,217.30 L1475.87,217.38 L1476.15,217.45 L1476.43,217.53 L1476.70,217.60 L1476.98,217.66 L1477.26,217.73 L1477.54,217.79 L1477.82,217.84 L1478.10,217.89 L1478.38,217.94 L1478.66,217.99 L1478.95,218.03 L1479.23,218.07 L1479.51,218.11 L1479.80,218.14 L1480.08,218.17 L1480.36,218.19 L1480.65,218.22 L1480.93,218.23 L1481.22,218.25 L1481.50,218.26 L1481.79,218.27 L1482.07,218.27 L1482.36,218.28 L1482.64,218.27 L1482.93,218.27 L1483.21,218.26 L1483.49,218.25 L1483.78,218.23 L1484.06,218.21 L1484.35,218.19 L1484.63,218.16 L1484.92,218.14 L1485.20,218.10 L1485.48,218.07 L1485.76,218.03 L1486.05,217.98 L1486.33,217.94 L1486.61,217.89 L1486.89,217.84 L1487.17,217.78 L1487.45,217.72 L1487.73,217.66 L1488.00,217.59 L1488.28,217.52 L1488.56,217.44 L1488.83,217.37 L1489.11,217.29 L1489.38,217.20 L1489.66,217.11 L1489.93,217.02 L1490.20,216.93 L1490.47,216.83 L1490.74,216.73 L1491.00,216.62 L1491.27,216.52 L1491.54,216.40 L1491.80,216.29 L1492.06,216.17 L1492.32,216.04 L1492.58,215.92 L1492.84,215.79 L1493.10,215.65 L1493.35,215.51 L1493.61,215.37 L1493.86,215.23 L1494.11,215.08 L1494.36,214.93 L1494.61,214.77 L1494.85,214.61 L1495.09,214.44 L1495.33,214.28 L1495.57,214.10 L1495.81,213.93 L1496.05,213.75 L1496.28,213.56 L1496.51,213.37 L1496.74,213.18 L1496.96,212.98 L1497.19,212.78 L1497.41,212.58 L1497.63,212.36 L1497.85,212.15 L1498.06,211.93 L1498.27,211.70 L1498.48,211.47 L1498.69,211.24 L1498.89,211.00 L1499.09,210.75 L1499.29,210.50 L1499.48,210.24 L1499.68,209.98 L1499.87,209.71 L1500.05,209.43 L1500.24,209.15 L1500.42,208.85 L1500.59,208.56 L1500.77,208.25 L1500.94,207.93 L1501.10,207.60 L1501.27,207.27 L1501.43,206.92 L1501.58,206.56 L1501.74,206.19 L1501.89,205.80 L1502.03,205.39 L1502.18,204.96 L1502.32,204.51 L1502.45,204.03 L1502.58,203.51 L1502.71,202.95 L1502.83,202.32 L1502.95,201.58 L1503.07,200.61 L1503.18,199.22 L1503.29,198.89 L1503.39,198.57 L1503.50,198.24 L1503.59,197.91 L1503.68,197.59 L1503.77,197.26 L1503.86,196.94 L1503.94,196.61 L1504.01,196.29 L1504.08,195.96 L1504.15,195.64 L1504.21,195.32 L1504.27,195.00 L1504.33,194.68 L1504.38,194.37 L1504.42,194.05 L1504.47,193.74 L1504.50,193.43 L1504.54,193.12 L1504.56,192.81 L1504.59,192.50 L1504.61,192.20 L1504.63,191.89 L1504.64,191.59 L1504.64,191.30 L1504.65,191.00 L1504.65,190.71 L1504.64,190.42 L1504.63,190.13 L1504.62,189.85 L1504.60,189.56 L1504.58,189.28 L1504.55,189.01 L1504.52,188.74 L1504.48,188.47 L1504.44,188.20 L1504.40,187.94 L1504.35,187.68 L1504.30,187.42 L1504.25,187.17 L1504.19,186.92 L1504.12,186.67 L1504.06,186.43 L1503.99,186.19 L1503.91,185.96 L1503.83,185.73 L1503.75,185.50 L1503.67,185.28 L1503.58,185.07 L1503.48,184.85 L1503.39,184.64 L1503.29,184.44 L1503.19,184.24 L1503.08,184.04 L1502.97,183.85 L1502.86,183.67 L1502.74,183.49 L1502.62,183.31 L1502.50,183.14 L1502.38,182.97 L1502.25,182.81 L1502.12,182.65 L1501.99,182.50 L1501.85,182.35 L1501.71,182.21 L1501.57,182.07 L1501.43,181.94 L1501.29,181.81 L1501.14,181.69 L1500.99,181.58 L1500.84,181.47 L1500.68,181.36 L1500.53,181.26 L1500.37,181.17 L1500.22,181.08 L1500.06,180.99 L1499.89,180.92 L1499.73,180.84 L1499.57,180.78 L1499.40,180.71 L1499.24,180.66 L1499.07,180.61 L1498.90,180.56 L1498.74,180.52 L1498.57,180.49 L1498.40,180.46 L1498.23,180.44 L1498.06,180.42 L1497.89,180.41 L1497.71,180.41 L1497.54,180.41 L1497.37,180.41 L1497.20,180.43 L1497.03,180.44 L1496.86,180.47 L1496.69,180.50 L1496.52,180.53 L1496.35,180.57 L1496.19,180.62 L1496.02,180.67 L1495.85,180.72 L1495.69,180.79 L1495.53,180.85 L1495.36,180.93 L1495.20,181.01 L1495.04,181.09 L1494.88,181.18 L1494.73,181.28 L1494.57,181.38 L1494.42,181.48 L1494.27,181.60 L1494.12,181.71 L1493.97,181.84 L1493.83,181.96 L1493.68,182.10 L1493.54,182.23 L1493.41,182.38 L1493.27,182.52 L1493.14,182.68 L1493.01,182.84 L1492.88,183.00 L1492.75,183.17 L1492.63,183.34 L1492.51,183.52 L1492.40,183.70 L1492.29,183.89 L1492.18,184.08 L1492.07,184.28 L1491.97,184.48 L1491.87,184.68 L1491.77,184.89 L1491.68,185.11 L1491.59,185.32 L1491.50,185.55 L1491.42,185.77 L1491.34,186.00 L1491.27,186.24 L1491.20,186.48 L1491.13,186.72 L1491.07,186.97 L1491.01,187.22 L1490.95,187.47 L1490.90,187.73 L1490.85,187.99 L1490.81,188.25 L1490.77,188.52 L1490.73,188.79 L1490.70,189.07 L1490.68,189.34 L1490.65,189.62 L1490.63,189.91 L1490.62,190.19 L1490.61,190.48 L1490.61,190.77 L1490.60,191.07 L1490.61,191.36 L1490.61,191.66 L1490.63,191.96 L1490.64,192.27 L1490.66,192.57 L1490.69,192.88 L1490.71,193.19 L1490.75,193.50 L1490.78,193.82 L1490.83,194.13 L1490.87,194.45 L1490.92,194.77 L1490.98,195.09 L1491.04,195.41 L1491.10,195.73 L1491.17,196.05 L1491.24,196.38 L1491.31,196.70 L1491.39,197.03 L1491.48,197.35 L1491.56,197.68 L1491.66,198.01 L1491.75,198.34 L1491.85,198.67 L1491.96,198.99 L1492.07,199.32 L1492.18,200.63 L1492.29,201.64 L1492.41,202.39 L1492.54,203.03 L1492.67,203.60 L1492.80,204.12 L1492.93,204.61 L1493.07,205.06 L1493.21,205.50 L1493.36,205.91 L1493.51,206.30 L1493.66,206.68 L1493.82,207.04 L1493.98,207.39 L1494.15,207.73 L1494.31,208.06 L1494.48,208.38 L1494.66,208.69 L1494.83,208.99 L1495.01,209.28 L1495.20,209.57 L1495.38,209.85 L1495.57,210.12 L1495.77,210.38 L1495.96,210.64 L1496.16,210.90 L1496.36,211.15 L1496.56,211.39 L1496.77,211.63 L1496.98,211.86 L1497.19,212.08 L1497.41,212.31 L1497.62,212.52 L1497.84,212.74 L1498.06,212.95 L1498.29,213.15 L1498.51,213.35 L1498.74,213.54 L1498.97,213.73 L1499.21,213.92 L1499.44,214.10 L1499.68,214.28 L1499.92,214.45 L1500.16,214.62 L1500.41,214.79 L1500.65,214.95 L1500.90,215.11 L1501.15,215.27 L1501.40,215.42 L1501.65,215.56 L1501.90,215.71 L1502.16,215.85 L1502.42,215.98 L1502.68,216.12 L1502.94,216.24 L1503.20,216.37 L1503.46,216.49 L1503.72,216.61 L1503.99,216.72 L1504.26,216.83 L1504.53,216.94 L1504.79,217.04 L1505.06,217.14 L1505.34,217.24 L1505.61,217.33 L1505.88,217.42 L1506.16,217.51 L1506.43,217.59 L1506.71,217.67 L1506.98,217.74 L1507.26,217.82 L1507.54,217.89 L1507.82,217.95 L1508.10,218.01 L1508.38,218.07 L1508.66,218.13 L1508.94,218.18 L1509.22,218.23 L1509.51,218.27 L1509.79,218.31 L1510.07,218.35 L1510.36,218.38 L1510.64,218.41 L1510.93,218.44 L1511.21,218.47 L1511.50,218.49 L1511.78,218.50 L1512.07,218.52 L1512.35,218.53 L1512.64,218.53 L1512.92,218.54 L1513.21,218.54 L1513.49,218.54 L1513.78,218.53 L1514.07,218.52 L1514.35,218.51 L1514.64,218.49 L1514.92,218.47 L1515.21,218.45 L1515.49,218.42 L1515.77,218.39 L1516.06,218.35 L1516.34,218.32 L1516.62,218.28 L1516.91,218.23 L1517.19,218.18 L1517.47,218.13 L1517.75,218.08 L1518.03,218.02 L1518.31,217.96 L1518.59,217.90 L1518.87,217.83 L1519.15,217.76 L1519.42,217.68 L1519.70,217.60 L1519.97,217.52 L1520.25,217.44 L1520.52,217.35 L1520.79,217.25 L1521.07,217.16 L1521.34,217.06 L1521.60,216.96 L1521.87,216.85 L1522.14,216.74 L1522.40,216.62 L1522.67,216.51 L1522.93,216.39 L1523.19,216.26 L1523.45,216.13 L1523.71,216.00 L1523.97,215.87 L1524.22,215.73 L1524.48,215.58 L1524.73,215.44 L1524.98,215.29 L1525.23,215.13 L1525.48,214.98 L1525.72,214.81 L1525.96,214.65 L1526.20,214.48 L1526.44,214.30 L1526.68,214.13 L1526.92,213.94 L1527.15,213.76 L1527.38,213.57 L1527.61,213.37 L1527.83,213.17 L1528.06,212.97 L1528.28,212.76 L1528.50,212.55 L1528.71,212.33 L1528.93,212.11 L1529.14,211.88 L1529.35,211.65 L1529.55,211.42 L1529.76,211.17 L1529.96,210.92 L1530.16,210.67 L1530.35,210.41 L1530.54,210.14 L1530.73,209.87 L1530.92,209.59 L1531.10,209.30 L1531.28,209.01 L1531.46,208.71 L1531.63,208.40 L1531.80,208.08 L1531.97,207.75 L1532.13,207.41 L1532.29,207.05 L1532.44,206.69 L1532.60,206.31 L1532.75,205.91 L1532.89,205.50 L1533.03,205.06 L1533.17,204.60 L1533.31,204.11 L1533.44,203.58 L1533.57,202.99 L1533.69,202.33 L1533.81,201.53 L1533.92,200.37 L1534.03,199.37 L1534.14,199.04 L1534.25,198.71 L1534.35,198.38 L1534.44,198.06 L1534.53,197.73 L1534.62,197.41 L1534.70,197.08 L1534.78,196.76 L1534.86,196.43 L1534.93,196.11 L1534.99,195.79 L1535.06,195.47 L1535.11,195.15 L1535.17,194.83 L1535.22,194.52 L1535.26,194.20 L1535.30,193.89 L1535.34,193.58 L1535.37,193.27 L1535.40,192.96 L1535.42,192.65 L1535.44,192.35 L1535.46,192.05 L1535.47,191.75 L1535.48,191.45 L1535.48,191.16 L1535.48,190.87 L1535.47,190.58 L1535.46,190.29 L1535.44,190.01 L1535.42,189.73 L1535.40,189.45 L1535.37,189.17 L1535.34,188.90 L1535.31,188.63 L1535.27,188.37 L1535.22,188.11 L1535.17,187.85 L1535.12,187.59 L1535.07,187.34 L1535.01,187.09 L1534.94,186.85 L1534.87,186.61 L1534.80,186.37 L1534.73,186.14 L1534.65,185.91 L1534.57,185.69 L1534.48,185.47 L1534.39,185.25 L1534.30,185.04 L1534.20,184.83 L1534.10,184.63 L1534.00,184.43 L1533.89,184.24 L1533.78,184.05 L1533.67,183.86 L1533.55,183.69 L1533.43,183.51 L1533.31,183.34 L1533.18,183.17 L1533.06,183.01 L1532.93,182.86 L1532.79,182.71 L1532.66,182.56 L1532.52,182.42 L1532.38,182.29 L1532.24,182.16 L1532.09,182.03 L1531.94,181.91 L1531.79,181.80 L1531.64,181.69 L1531.49,181.59 L1531.34,181.49 L1531.18,181.40 L1531.02,181.31 L1530.86,181.23 L1530.70,181.15 L1530.54,181.08 L1530.38,181.02 L1530.21,180.96 L1530.05,180.90 L1529.88,180.85 L1529.71,180.81 L1529.54,180.77 L1529.38,180.74 L1529.21,180.72 L1529.04,180.70 L1528.87,180.68 L1528.70,180.67 L1528.53,180.67 L1528.36,180.67 L1528.19,180.68 L1528.02,180.70 L1527.85,180.71 L1527.68,180.74 L1527.51,180.77 L1527.34,180.81 L1527.17,180.85 L1527.01,180.90 L1526.84,180.95 L1526.68,181.01 L1526.51,181.07 L1526.35,181.14 L1526.19,181.22 L1526.03,181.30 L1525.87,181.39 L1525.71,181.48 L1525.56,181.58 L1525.40,181.68 L1525.25,181.79 L1525.10,181.90 L1524.96,182.02 L1524.81,182.15 L1524.67,182.27 L1524.52,182.41 L1524.39,182.55 L1524.25,182.69 L1524.12,182.84 L1523.98,183.00 L1523.86,183.16 L1523.73,183.32 L1523.61,183.49 L1523.49,183.67 L1523.37,183.85 L1523.26,184.03 L1523.14,184.22 L1523.04,184.41 L1522.93,184.61 L1522.83,184.82 L1522.73,185.02 L1522.64,185.23 L1522.55,185.45 L1522.46,185.67 L1522.38,185.89 L1522.30,186.12 L1522.22,186.35 L1522.15,186.59 L1522.08,186.83 L1522.01,187.07 L1521.95,187.32 L1521.89,187.57 L1521.84,187.83 L1521.79,188.09 L1521.75,188.35 L1521.71,188.62 L1521.67,188.88 L1521.64,189.16 L1521.61,189.43 L1521.58,189.71 L1521.56,189.99 L1521.55,190.28 L1521.53,190.56 L1521.53,190.85 L1521.52,191.14 L1521.52,191.44 L1521.53,191.74 L1521.54,192.04 L1521.55,192.34 L1521.57,192.64 L1521.59,192.95 L1521.62,193.26 L1521.65,193.57 L1521.68,193.88 L1521.72,194.19 L1521.77,194.51 L1521.82,194.83 L1521.87,195.15 L1521.93,195.47 L1521.99,195.79 L1522.05,196.11 L1522.12,196.43 L1522.20,196.76 L1522.27,197.08 L1522.35,197.41 L1522.44,197.74 L1522.53,198.06 L1522.63,198.39 L1522.72,198.72 L1522.83,199.05 L1522.93,199.38 L1523.04,199.71 L1523.16,201.31 L1523.28,202.19 L1523.40,202.90 L1523.52,203.51 L1523.65,204.06 L1523.79,204.57 L1523.93,205.04 L1524.07,205.49 L1524.21,205.91 L1524.36,206.31 L1524.51,206.70 L1524.67,207.07 L1524.83,207.43 L1524.99,207.78 L1525.15,208.11 L1525.32,208.44 L1525.49,208.75 L1525.67,209.06 L1525.85,209.36 L1526.03,209.65 L1526.22,209.93 L1526.40,210.21 L1526.60,210.48 L1526.79,210.74 L1526.99,211.00 L1527.19,211.25 L1527.39,211.50 L1527.59,211.74 L1527.80,211.97 L1528.01,212.20 L1528.23,212.43 L1528.44,212.65 L1528.66,212.87 L1528.88,213.08 L1529.11,213.28 L1529.33,213.49 L1529.56,213.68 L1529.79,213.88 L1530.02,214.07 L1530.26,214.25 L1530.49,214.43 L1530.73,214.61 L1530.97,214.78 L1531.22,214.95 L1531.46,215.11 L1531.71,215.28 L1531.96,215.43 L1532.21,215.59 L1532.46,215.74 L1532.71,215.88 L1532.97,216.02 L1533.23,216.16 L1533.48,216.30 L1533.74,216.43 L1534.01,216.55 L1534.27,216.68 L1534.53,216.80 L1534.80,216.91 L1535.06,217.03 L1535.33,217.14 L1535.60,217.24 L1535.87,217.34 L1536.14,217.44 L1536.42,217.54 L1536.69,217.63 L1536.96,217.72 L1537.24,217.80 L1537.52,217.88 L1537.79,217.96 L1538.07,218.04 L1538.35,218.11 L1538.63,218.17 L1538.91,218.24 L1539.19,218.30 L1539.47,218.35 L1539.75,218.41 L1540.04,218.46 L1540.32,218.51 L1540.60,218.55 L1540.89,218.59 L1541.17,218.63 L1541.45,218.66 L1541.74,218.69 L1542.03,218.71 L1542.31,218.74 L1542.60,218.76 L1542.88,218.77 L1543.17,218.79 L1543.45,218.79 L1543.74,218.80 L1544.03,218.80" fill="none" stroke="#333" stroke-width="3.6" stroke-linejoin="round" stroke-linecap="round" />
<path d="M1544.03,218.80 C1558.03,218.80 1566,216.80 1566,202.80 V130" fill="none" stroke="#333" stroke-width="3.4" stroke-linejoin="round" stroke-linecap="round" />
<circle cx="1195" cy="117" r="7.4" fill="none" stroke="#333" stroke-width="3.4"/>
<circle cx="1565.7" cy="121.8" r="7.2" fill="none" stroke="#777" stroke-width="3"/>
<path d="M1277.53,186.25 L1277.53,185.81 L1277.53,185.37 L1277.53,184.93 L1277.54,184.50 L1277.54,184.06 L1277.55,183.62 L1277.56,183.18 L1277.57,182.74 L1277.59,182.30 L1277.60,181.86 L1277.62,181.42 L1277.63,177.75 L1277.65,175.54 L1277.67,173.98 L1277.70,172.69 L1277.72,171.58 L1277.75,170.58 L1277.78,169.67 L1277.81,168.83 L1277.84,168.04 L1277.87,167.29 L1277.90,166.59 L1277.94,165.91 L1277.98,165.27 L1278.02,164.65 L1278.06,164.05 L1278.10,163.48 L1278.15,162.92 L1278.20,162.38 L1278.25,161.86 L1278.30,161.35 L1278.35,160.86 L1278.40,160.37 L1278.46,159.90 L1278.52,159.44 L1278.58,159.00 L1278.64,158.56 L1278.70,158.13 L1278.77,157.71 L1278.84,157.29 L1278.91,156.89 L1278.98,156.49 L1279.05,156.10 L1279.13,155.72 L1279.21,155.34 L1279.29,154.97 L1279.37,154.61 L1279.45,154.26 L1279.54,153.90 L1279.62,153.56 L1279.71,153.22 L1279.81,152.89 L1279.90,152.56 L1279.99,152.23 L1280.09,151.91 L1280.19,151.60 L1280.29,151.29 L1280.40,150.98 L1280.50,150.68 L1280.61,150.38 L1280.72,150.09 L1280.83,149.80 L1280.95,149.52 L1281.06,149.24 L1281.18,148.96 L1281.30,148.69 L1281.42,148.42 L1281.54,148.15 L1281.67,147.89 L1281.80,147.63 L1281.93,147.38 L1282.06,147.13 L1282.19,146.88 L1282.33,146.64 L1282.47,146.39 L1282.61,146.16 L1282.75,145.92 L1282.89,145.69 L1283.04,145.46 L1283.19,145.23 L1283.34,145.01 L1283.49,144.79 L1283.64,144.57 L1283.80,144.36 L1283.96,144.15 L1284.12,143.94 L1284.28,143.74 L1284.44,143.53 L1284.61,143.33 L1284.77,143.14 L1284.94,142.94 L1285.11,142.75 L1285.29,142.56 L1285.46,142.38 L1285.64,142.19 L1285.82,142.01 L1286.00,141.83 L1286.18,141.66 L1286.36,141.48 L1286.55,141.31 L1286.74,141.15 L1286.93,140.98 L1287.12,140.82 L1287.31,140.66 L1287.51,140.50 L1287.70,140.34 L1287.90,140.19 L1288.10,140.04 L1288.30,139.89 L1288.51,139.74 L1288.71,139.60 L1288.92,139.46 L1289.13,139.32 L1289.34,139.18 L1289.55,139.05 L1289.76,138.91 L1289.97,138.78 L1290.19,138.66 L1290.41,138.53 L1290.63,138.41 L1290.85,138.29 L1291.07,138.17 L1291.29,138.05 L1291.52,137.94 L1291.74,137.83 L1291.97,137.72 L1292.20,137.61 L1292.43,137.51 L1292.66,137.40 L1292.89,137.30 L1293.13,137.21 L1293.36,137.11 L1293.60,137.02 L1293.83,136.92 L1294.07,136.83 L1294.31,136.75 L1294.55,136.66 L1294.80,136.58 L1295.04,136.50 L1295.28,136.42 L1295.53,136.34 L1295.77,136.27 L1296.02,136.20 L1296.27,136.13 L1296.52,136.06 L1296.77,135.99 L1297.02,135.93 L1297.27,135.87 L1297.52,135.81 L1297.78,135.75 L1298.03,135.70 L1298.28,135.64 L1298.54,135.59 L1298.79,135.54 L1299.05,135.50 L1299.31,135.45 L1299.57,135.41 L1299.82,135.37 L1300.08,135.33 L1300.34,135.29 L1300.60,135.26 L1300.86,135.23 L1301.12,135.20 L1301.39,135.17 L1301.65,135.15 L1301.91,135.12 L1302.17,135.10 L1302.43,135.08 L1302.70,135.06 L1302.96,135.05 L1303.22,135.04 L1303.49,135.02 L1303.75,135.02 L1304.01,135.01 L1304.28,135.00 L1304.54,135.00 L1304.80,135.00 L1305.07,135.00 L1305.33,135.01 L1305.59,135.01 L1305.86,135.02 L1306.12,135.03 L1306.38,135.04 L1306.65,135.05 L1306.91,135.07 L1307.17,135.09 L1307.44,135.11 L1307.70,135.13 L1307.96,135.16 L1308.22,135.18 L1308.48,135.21 L1308.74,135.24 L1309.00,135.27 L1309.26,135.31 L1309.52,135.35 L1309.78,135.39 L1310.04,135.43 L1310.30,135.47 L1310.55,135.52 L1310.81,135.56 L1311.07,135.61 L1311.32,135.66 L1311.57,135.72 L1311.83,135.77 L1312.08,135.83 L1312.33,135.89 L1312.58,135.95 L1312.83,136.02 L1313.08,136.09 L1313.33,136.15 L1313.58,136.23 L1313.83,136.30 L1314.07,136.37 L1314.32,136.45 L1314.56,136.53 L1314.80,136.61 L1315.04,136.70 L1315.28,136.78 L1315.52,136.87 L1315.76,136.96 L1316.00,137.05 L1316.24,137.15 L1316.47,137.25 L1316.70,137.34 L1316.94,137.45 L1317.17,137.55 L1317.40,137.66 L1317.62,137.76 L1317.85,137.87 L1318.08,137.99 L1318.30,138.10 L1318.52,138.22 L1318.74,138.34 L1318.96,138.46 L1319.18,138.58 L1319.40,138.71 L1319.61,138.84 L1319.83,138.97 L1320.04,139.10 L1320.25,139.24 L1320.46,139.37 L1320.67,139.51 L1320.87,139.66 L1321.08,139.80 L1321.28,139.95 L1321.48,140.10 L1321.68,140.25 L1321.88,140.40 L1322.07,140.56 L1322.27,140.72 L1322.46,140.88 L1322.65,141.05 L1322.84,141.21 L1323.03,141.38 L1323.21,141.55 L1323.39,141.73 L1323.58,141.91 L1323.76,142.09 L1323.93,142.27 L1324.11,142.45 L1324.28,142.64 L1324.46,142.83 L1324.63,143.02 L1324.79,143.22 L1324.96,143.42 L1325.13,143.62 L1325.29,143.82 L1325.45,144.03 L1325.61,144.24 L1325.77,144.45 L1325.92,144.66 L1326.07,144.88 L1326.22,145.10 L1326.37,145.33 L1326.52,145.55 L1326.67,145.78 L1326.81,146.02 L1326.95,146.25 L1327.09,146.49 L1327.23,146.73 L1327.36,146.98 L1327.49,147.23 L1327.63,147.48 L1327.75,147.74 L1327.88,148.00 L1328.01,148.26 L1328.13,148.53 L1328.25,148.80 L1328.37,149.07 L1328.49,149.35 L1328.60,149.63 L1328.71,149.92 L1328.83,150.21 L1328.93,150.50 L1329.04,150.80 L1329.15,151.11 L1329.25,151.41 L1329.35,151.73 L1329.45,152.04 L1329.54,152.36 L1329.64,152.69 L1329.73,153.02 L1329.82,153.36 L1329.91,153.70 L1330.00,154.05 L1330.08,154.40 L1330.17,154.76 L1330.25,155.12 L1330.32,155.50 L1330.40,155.87 L1330.48,156.26 L1330.55,156.65 L1330.62,157.05 L1330.69,157.46 L1330.76,157.88 L1330.82,158.30 L1330.88,158.73 L1330.95,159.18 L1331.01,159.63 L1331.06,160.09 L1331.12,160.57 L1331.17,161.06 L1331.22,161.56 L1331.27,162.07 L1331.32,162.60 L1331.37,163.15 L1331.41,163.71 L1331.46,164.29 L1331.50,164.90 L1331.54,165.53 L1331.57,166.18 L1331.61,166.87 L1331.64,167.59 L1331.68,168.35 L1331.71,169.16 L1331.74,170.03 L1331.76,170.98 L1331.79,172.02 L1331.81,173.19 L1331.83,174.57 L1331.85,176.32 L1331.87,179.25 L1331.89,181.60 L1331.91,182.04 L1331.92,182.48 L1331.93,182.92 L1331.94,183.36 L1331.95,183.80 L1331.96,184.24 L1331.97,184.67 L1331.97,185.11 L1331.97,185.55 L1331.97,185.99 L1331.97,186.42 L1331.97,186.86 L1331.97,187.30 L1331.97,187.73 L1331.96,188.17 L1331.95,188.60 L1331.95,189.03 L1331.94,189.47 L1331.92,189.90 L1331.91,190.33 L1331.90,190.76 L1331.88,191.19 L1331.87,191.62 L1331.85,192.04 L1331.83,192.47 L1331.81,192.90 L1331.79,193.32 L1331.77,193.74 L1331.74,194.17 L1331.72,194.59 L1331.69,195.01 L1331.66,195.43 L1331.64,195.84 L1331.61,196.26 L1331.58,196.67 L1331.54,197.09 L1331.51,197.50 L1331.48,197.91 L1331.44,198.32 L1331.41,198.73 L1331.37,199.13 L1331.33,199.54 L1331.29,199.94 L1331.25,200.34 L1331.21,200.74 L1331.17,201.14 L1331.13,201.53 L1331.09,201.93 L1331.04,202.32 L1331.00,202.71 L1330.95,203.10 L1330.90,203.48 L1330.86,203.87 L1330.81,204.25 L1330.76,204.63 L1330.71,205.01 L1330.66,205.38 L1330.61,205.76 L1330.55,206.13 L1330.50,206.50 L1330.45,206.86 L1330.39,207.23 L1330.34,207.59 L1330.28,207.95 L1330.23,208.31 L1330.17,208.66 L1330.11,209.02 L1330.05,209.37 L1329.99,209.71 L1329.94,210.06 L1329.88,210.40 L1329.81,210.74 L1329.75,211.08 L1329.69,211.41 L1329.63,211.74 L1329.57,212.07 L1329.50,212.40 L1329.44,212.72 L1329.38,213.04 L1329.31,213.36 L1329.25,213.67 L1329.18,213.99 L1329.11,214.29 L1329.05,214.60 L1328.98,214.90 L1328.91,215.20 L1328.85,215.50 L1328.78,215.79 L1328.71,216.08 L1328.64,216.37 L1328.57,216.66 L1328.50,216.94 L1328.43,217.21 L1328.36,217.49 L1328.29,217.76 L1328.22,218.03 L1328.15,218.29 L1328.08,218.55 L1328.01,218.81 L1327.94,219.07 L1327.87,219.32 L1327.79,219.57 L1327.72,219.81 L1327.65,220.05 L1327.57,220.29 L1327.50,220.52 L1327.43,220.75 L1327.35,220.98 L1327.28,221.20 L1327.21,221.42 L1327.13,221.64 L1327.06,221.85 L1326.98,222.06 L1326.91,222.26 L1326.83,222.46 L1326.76,222.66 L1326.68,222.85 L1326.61,223.04 L1326.53,223.23 L1326.46,223.41 L1326.38,223.59 L1326.30,223.77 L1326.23,223.94 L1326.15,224.10 L1326.08,224.27 L1326.00,224.43 L1325.92,224.58 L1325.85,224.73 L1325.77,224.88 L1325.69,225.03 L1325.62,225.17 L1325.54,225.30 L1325.46,225.43 L1325.38,225.56 L1325.31,225.68 L1325.23,225.80 L1325.15,225.92 L1325.08,226.03 L1325.00,226.14 L1324.92,226.24 L1324.84,226.34 L1324.77,226.44 L1324.69,226.53 L1324.61,226.62 L1324.53,226.70 L1324.45,226.78 L1324.38,226.86 L1324.30,226.93 L1324.22,226.99 L1324.14,227.06 L1324.06,227.11 L1323.99,227.17 L1323.91,227.22 L1323.83,227.27 L1323.75,227.31 L1323.67,227.35 L1323.60,227.38 L1323.52,227.41 L1323.44,227.43 L1323.36,227.46 L1323.28,227.47 L1323.21,227.49 L1323.13,227.49 L1323.05,227.50 L1322.97,227.50 L1322.89,227.50 L1322.81,227.49 L1322.74,227.48 L1322.66,227.46 L1322.58,227.44 L1322.50,227.41 L1322.42,227.39 L1322.35,227.35 L1322.27,227.32 L1322.19,227.27 L1322.11,227.23 L1322.03,227.18 L1321.96,227.13 L1321.88,227.07 L1321.80,227.01 L1321.72,226.94 L1321.64,226.87 L1321.57,226.80 L1321.49,226.72 L1321.41,226.63 L1321.33,226.55 L1321.26,226.46 L1321.18,226.36 L1321.10,226.26 L1321.02,226.16 L1320.95,226.05 L1320.87,225.94 L1320.79,225.83 L1320.71,225.71 L1320.64,225.59 L1320.56,225.46 L1320.48,225.33 L1320.40,225.19 L1320.33,225.05 L1320.25,224.91 L1320.17,224.76 L1320.10,224.61 L1320.02,224.46 L1319.94,224.30 L1319.87,224.14 L1319.79,223.97 L1319.72,223.80 L1319.64,223.63 L1319.56,223.45 L1319.49,223.27 L1319.41,223.08 L1319.34,222.89 L1319.26,222.70 L1319.19,222.50 L1319.11,222.30 L1319.04,222.10 L1318.96,221.89 L1318.89,221.68 L1318.81,221.46 L1318.74,221.24 L1318.67,221.02 L1318.59,220.80 L1318.52,220.57 L1318.45,220.33 L1318.37,220.10 L1318.30,219.86 L1318.23,219.61 L1318.15,219.37 L1318.08,219.12 L1318.01,218.86 L1317.94,218.60 L1317.87,218.34 L1317.80,218.08 L1317.73,217.81 L1317.66,217.54 L1317.59,217.27 L1317.52,216.99 L1317.45,216.71 L1317.38,216.43 L1317.31,216.14 L1317.24,215.85 L1317.17,215.56 L1317.10,215.26 L1317.04,214.96 L1316.97,214.66 L1316.90,214.35 L1316.84,214.05 L1316.77,213.73 L1316.71,213.42 L1316.64,213.10 L1316.58,212.78 L1316.51,212.46 L1316.45,212.14 L1316.39,211.81 L1316.33,211.48 L1316.26,211.14 L1316.20,210.81 L1316.14,210.47 L1316.08,210.12 L1316.02,209.78 L1315.96,209.43 L1315.90,209.08 L1315.85,208.73 L1315.79,208.38 L1315.73,208.02 L1315.68,207.66 L1315.62,207.30 L1315.57,206.94 L1315.51,206.57 L1315.46,206.20 L1315.41,205.83 L1315.36,205.46 L1315.31,205.08 L1315.26,204.70 L1315.21,204.32 L1315.16,203.94 L1315.11,203.56 L1315.06,203.17 L1315.02,202.78 L1314.97,202.39 L1314.93,202.00 L1314.88,201.61 L1314.84,201.21 L1314.80,200.82 L1314.76,200.42 L1314.72,200.02 L1314.68,199.62 L1314.64,199.21 L1314.60,198.81 L1314.57,198.40 L1314.53,197.99 L1314.50,197.58 L1314.47,197.17 L1314.44,196.76 L1314.40,196.34 L1314.37,195.92 L1314.35,195.51 L1314.32,195.09 L1314.29,194.67 L1314.27,194.25 L1314.24,193.83 L1314.22,193.40 L1314.20,192.98 L1314.18,192.55 L1314.16,192.13 L1314.14,191.70 L1314.13,191.27 L1314.11,190.84 L1314.10,190.41 L1314.08,189.98 L1314.07,189.55 L1314.06,189.12 L1314.05,188.68 L1314.05,188.25 L1314.04,187.82 L1314.04,187.38 L1314.03,186.94 L1314.03,186.51 L1314.03,186.07 L1314.03,185.63 L1314.03,185.20 L1314.04,184.76 L1314.04,184.32 L1314.05,183.88 L1314.06,183.44 L1314.07,183.01 L1314.08,182.57 L1314.10,182.13 L1314.11,181.69 L1314.13,181.04 L1314.15,176.74 L1314.17,174.87 L1314.19,173.44 L1314.21,172.23 L1314.24,171.17 L1314.26,170.21 L1314.29,169.33 L1314.32,168.51 L1314.35,167.74 L1314.39,167.01 L1314.42,166.31 L1314.46,165.65 L1314.50,165.02 L1314.54,164.41 L1314.58,163.82 L1314.63,163.25 L1314.67,162.71 L1314.72,162.17 L1314.77,161.66 L1314.82,161.15 L1314.88,160.66 L1314.93,160.19 L1314.99,159.72 L1315.05,159.26 L1315.11,158.82 L1315.17,158.38 L1315.24,157.96 L1315.30,157.54 L1315.37,157.13 L1315.44,156.73 L1315.51,156.34 L1315.59,155.95 L1315.67,155.57 L1315.74,155.20 L1315.82,154.83 L1315.91,154.47 L1315.99,154.12 L1316.08,153.77 L1316.17,153.42 L1316.26,153.09 L1316.35,152.75 L1316.44,152.43 L1316.54,152.10 L1316.64,151.79 L1316.74,151.47 L1316.84,151.17 L1316.94,150.86 L1317.05,150.56 L1317.16,150.27 L1317.27,149.98 L1317.38,149.69 L1317.50,149.41 L1317.61,149.13 L1317.73,148.85 L1317.85,148.58 L1317.97,148.31 L1318.10,148.05 L1318.23,147.79 L1318.35,147.53 L1318.49,147.28 L1318.62,147.03 L1318.75,146.78 L1318.89,146.54 L1319.03,146.30 L1319.17,146.06 L1319.31,145.83 L1319.46,145.60 L1319.60,145.37 L1319.75,145.15 L1319.90,144.92 L1320.05,144.71 L1320.21,144.49 L1320.37,144.28 L1320.52,144.07 L1320.68,143.86 L1320.85,143.66 L1321.01,143.45 L1321.18,143.26 L1321.35,143.06 L1321.52,142.87 L1321.69,142.68 L1321.86,142.49 L1322.04,142.30 L1322.22,142.12 L1322.39,141.94 L1322.58,141.76 L1322.76,141.59 L1322.94,141.42 L1323.13,141.25 L1323.32,141.08 L1323.51,140.91 L1323.70,140.75 L1323.89,140.59 L1324.09,140.43 L1324.29,140.28 L1324.49,140.13 L1324.69,139.98 L1324.89,139.83 L1325.09,139.68 L1325.30,139.54 L1325.51,139.40 L1325.71,139.26 L1325.92,139.13 L1326.14,138.99 L1326.35,138.86 L1326.56,138.73 L1326.78,138.61 L1327.00,138.48 L1327.22,138.36 L1327.44,138.24 L1327.66,138.12 L1327.89,138.01 L1328.11,137.90 L1328.34,137.78 L1328.57,137.68 L1328.79,137.57 L1329.03,137.47 L1329.26,137.36 L1329.49,137.26 L1329.72,137.17 L1329.96,137.07 L1330.20,136.98 L1330.43,136.89 L1330.67,136.80 L1330.91,136.71 L1331.16,136.63 L1331.40,136.55 L1331.64,136.47 L1331.89,136.39 L1332.13,136.31 L1332.38,136.24 L1332.63,136.17 L1332.87,136.10 L1333.12,136.03 L1333.37,135.97 L1333.62,135.90 L1333.88,135.84 L1334.13,135.79 L1334.38,135.73 L1334.64,135.67 L1334.89,135.62 L1335.15,135.57 L1335.40,135.52 L1335.66,135.48 L1335.92,135.43 L1336.17,135.39 L1336.43,135.35 L1336.69,135.32 L1336.95,135.28 L1337.21,135.25 L1337.47,135.22 L1337.73,135.19 L1337.99,135.16 L1338.26,135.14 L1338.52,135.11 L1338.78,135.09 L1339.04,135.07 L1339.31,135.06 L1339.57,135.04 L1339.83,135.03 L1340.10,135.02 L1340.36,135.01 L1340.62,135.01 L1340.89,135.00 L1341.15,135.00 L1341.41,135.00 L1341.68,135.00 L1341.94,135.01 L1342.20,135.01 L1342.47,135.02 L1342.73,135.03 L1342.99,135.05 L1343.26,135.06 L1343.52,135.08 L1343.78,135.10 L1344.05,135.12 L1344.31,135.14 L1344.57,135.17 L1344.83,135.19 L1345.09,135.22 L1345.35,135.25 L1345.61,135.29 L1345.87,135.32 L1346.13,135.36 L1346.39,135.40 L1346.65,135.44 L1346.90,135.49 L1347.16,135.53 L1347.42,135.58 L1347.67,135.63 L1347.93,135.69 L1348.18,135.74 L1348.43,135.80 L1348.69,135.86 L1348.94,135.92 L1349.19,135.98 L1349.44,136.05 L1349.69,136.11 L1349.94,136.18 L1350.18,136.25 L1350.43,136.33 L1350.67,136.40 L1350.92,136.48 L1351.16,136.56 L1351.40,136.65 L1351.65,136.73 L1351.89,136.82 L1352.12,136.91 L1352.36,137.00 L1352.60,137.09 L1352.83,137.19 L1353.07,137.28 L1353.30,137.38 L1353.53,137.49 L1353.76,137.59 L1353.99,137.70 L1354.22,137.81 L1354.45,137.92 L1354.67,138.03 L1354.89,138.15 L1355.12,138.27 L1355.34,138.39 L1355.56,138.51 L1355.77,138.63 L1355.99,138.76 L1356.20,138.89 L1356.42,139.02 L1356.63,139.15 L1356.84,139.29 L1357.05,139.43 L1357.25,139.57 L1357.46,139.71 L1357.66,139.86 L1357.86,140.01 L1358.07,140.16 L1358.26,140.31 L1358.46,140.47 L1358.66,140.62 L1358.85,140.78 L1359.04,140.95 L1359.23,141.11 L1359.42,141.28 L1359.60,141.45 L1359.79,141.62 L1359.97,141.80 L1360.15,141.98 L1360.33,142.16 L1360.51,142.34 L1360.68,142.53 L1360.86,142.71 L1361.03,142.91 L1361.20,143.10 L1361.37,143.30 L1361.53,143.49 L1361.70,143.70 L1361.86,143.90 L1362.02,144.11 L1362.18,144.32 L1362.33,144.53 L1362.49,144.75 L1362.64,144.97 L1362.79,145.19 L1362.94,145.42 L1363.08,145.64 L1363.23,145.88 L1363.37,146.11 L1363.51,146.35 L1363.65,146.59 L1363.79,146.83 L1363.92,147.08 L1364.05,147.33 L1364.18,147.58 L1364.31,147.84 L1364.44,148.10 L1364.56,148.37 L1364.68,148.64 L1364.80,148.91 L1364.92,149.18 L1365.04,149.46 L1365.15,149.75 L1365.26,150.04 L1365.37,150.33 L1365.48,150.62 L1365.59,150.92 L1365.69,151.23 L1365.79,151.54 L1365.89,151.85 L1365.99,152.17 L1366.09,152.49 L1366.18,152.82 L1366.27,153.15 L1366.36,153.49 L1366.45,153.84 L1366.54,154.19 L1366.62,154.54 L1366.70,154.90 L1366.78,155.27 L1366.86,155.65 L1366.94,156.03 L1367.01,156.41 L1367.08,156.81 L1367.15,157.21 L1367.22,157.62 L1367.29,158.04 L1367.35,158.47 L1367.41,158.91 L1367.48,159.36 L1367.53,159.81 L1367.59,160.28 L1367.65,160.76 L1367.70,161.25 L1367.75,161.76 L1367.80,162.28 L1367.85,162.82 L1367.89,163.37 L1367.94,163.94 L1367.98,164.53 L1368.02,165.15 L1368.06,165.78 L1368.09,166.45 L1368.13,167.15 L1368.16,167.89 L1368.19,168.67 L1368.22,169.50 L1368.25,170.40 L1368.28,171.38 L1368.30,172.47 L1368.33,173.71 L1368.35,175.21 L1368.37,177.22 L1368.39,181.34 L1368.40,181.78 L1368.42,182.22 L1368.43,182.66 L1368.44,183.09 L1368.45,183.53 L1368.46,183.97 L1368.47,184.41 L1368.47,184.85 L1368.48,185.29 L1368.48,185.72 L1368.48,186.16 L1368.48,186.60 L1368.48,187.03 L1368.47,187.47 L1368.47,187.90 L1368.46,188.34 L1368.46,188.77 L1368.45,189.20 L1368.44,189.64 L1368.42,190.07 L1368.41,190.50 L1368.40,190.93 L1368.38,191.36 L1368.37,191.79 L1368.35,192.21 L1368.33,192.64 L1368.31,193.07 L1368.29,193.49 L1368.26,193.91 L1368.24,194.33 L1368.21,194.75 L1368.19,195.17 L1368.16,195.59 L1368.13,196.01 L1368.10,196.43 L1368.07,196.84 L1368.04,197.25 L1368.00,197.66 L1367.97,198.07 L1367.93,198.48 L1367.90,198.89 L1367.86,199.29 L1367.82,199.70 L1367.78,200.10 L1367.74,200.50 L1367.70,200.90 L1367.66,201.29 L1367.62,201.69 L1367.57,202.08 L1367.53,202.47 L1367.48,202.86 L1367.44,203.25 L1367.39,203.64 L1367.34,204.02 L1367.29,204.40 L1367.24,204.78 L1367.19,205.16 L1367.14,205.53 L1367.09,205.90 L1367.04,206.28 L1366.99,206.64 L1366.93,207.01 L1366.88,207.37 L1366.82,207.73 L1366.77,208.09 L1366.71,208.45 L1366.65,208.80 L1366.59,209.16 L1366.54,209.50 L1366.48,209.85 L1366.42,210.19 L1366.36,210.54 L1366.30,210.87 L1366.23,211.21 L1366.17,211.54 L1366.11,211.87 L1366.05,212.20 L1365.98,212.53 L1365.92,212.85 L1365.86,213.17 L1365.79,213.48 L1365.73,213.80 L1365.66,214.11 L1365.59,214.42 L1365.53,214.72 L1365.46,215.02 L1365.39,215.32 L1365.33,215.62 L1365.26,215.91 L1365.19,216.20 L1365.12,216.48 L1365.05,216.77 L1364.98,217.05 L1364.91,217.32 L1364.84,217.60 L1364.77,217.87 L1364.70,218.13 L1364.63,218.40 L1364.56,218.66 L1364.49,218.91 L1364.41,219.17 L1364.34,219.42 L1364.27,219.66 L1364.20,219.91 L1364.12,220.15 L1364.05,220.38 L1363.98,220.61 L1363.90,220.84 L1363.83,221.07 L1363.76,221.29 L1363.68,221.51 L1363.61,221.72 L1363.53,221.93 L1363.46,222.14 L1363.38,222.34 L1363.31,222.54 L1363.23,222.74 L1363.16,222.93 L1363.08,223.12 L1363.01,223.30 L1362.93,223.48 L1362.86,223.66 L1362.78,223.84 L1362.70,224.00 L1362.63,224.17 L1362.55,224.33 L1362.47,224.49 L1362.40,224.64 L1362.32,224.79 L1362.24,224.94 L1362.17,225.08 L1362.09,225.22 L1362.01,225.35 L1361.94,225.48 L1361.86,225.61 L1361.78,225.73 L1361.70,225.85 L1361.63,225.97 L1361.55,226.08 L1361.47,226.18 L1361.39,226.28 L1361.32,226.38 L1361.24,226.48 L1361.16,226.57 L1361.08,226.65 L1361.01,226.73 L1360.93,226.81 L1360.85,226.88 L1360.77,226.95 L1360.69,227.02 L1360.62,227.08 L1360.54,227.14 L1360.46,227.19 L1360.38,227.24 L1360.30,227.28 L1360.23,227.32 L1360.15,227.36 L1360.07,227.39 L1359.99,227.42 L1359.91,227.44 L1359.84,227.46 L1359.76,227.48 L1359.68,227.49 L1359.60,227.50 L1359.52,227.50 L1359.45,227.50 L1359.37,227.49 L1359.29,227.48 L1359.21,227.47 L1359.13,227.45 L1359.05,227.43 L1358.98,227.40 L1358.90,227.37 L1358.82,227.34 L1358.74,227.30 L1358.66,227.26 L1358.59,227.21 L1358.51,227.16 L1358.43,227.10 L1358.35,227.04 L1358.27,226.98 L1358.20,226.91 L1358.12,226.84 L1358.04,226.76 L1357.96,226.68 L1357.89,226.60 L1357.81,226.51 L1357.73,226.42 L1357.65,226.32 L1357.57,226.22 L1357.50,226.12 L1357.42,226.01 L1357.34,225.90 L1357.26,225.78 L1357.19,225.66 L1357.11,225.54 L1357.03,225.41 L1356.96,225.27 L1356.88,225.14 L1356.80,225.00 L1356.73,224.85 L1356.65,224.70 L1356.57,224.55 L1356.50,224.40 L1356.42,224.24 L1356.34,224.07 L1356.27,223.90 L1356.19,223.73 L1356.12,223.56 L1356.04,223.38 L1355.96,223.19 L1355.89,223.01 L1355.81,222.82 L1355.74,222.62 L1355.66,222.42 L1355.59,222.22 L1355.51,222.02 L1355.44,221.81 L1355.36,221.59 L1355.29,221.38 L1355.22,221.16 L1355.14,220.93 L1355.07,220.71 L1354.99,220.47 L1354.92,220.24 L1354.85,220.00 L1354.78,219.76 L1354.70,219.52 L1354.63,219.27 L1354.56,219.01 L1354.49,218.76 L1354.42,218.50 L1354.34,218.24 L1354.27,217.97 L1354.20,217.70 L1354.13,217.43 L1354.06,217.16 L1353.99,216.88 L1353.92,216.60 L1353.85,216.31 L1353.79,216.02 L1353.72,215.73 L1353.65,215.44 L1353.58,215.14 L1353.52,214.84 L1353.45,214.54 L1353.38,214.23 L1353.32,213.92 L1353.25,213.61 L1353.19,213.29 L1353.12,212.98 L1353.06,212.66 L1352.99,212.33 L1352.93,212.01 L1352.87,211.68 L1352.81,211.34 L1352.74,211.01 L1352.68,210.67 L1352.62,210.33 L1352.56,209.99 L1352.50,209.64 L1352.45,209.29 L1352.39,208.94 L1352.33,208.59 L1352.27,208.24 L1352.22,207.88 L1352.16,207.52 L1352.11,207.15 L1352.05,206.79 L1352.00,206.42 L1351.95,206.05 L1351.89,205.68 L1351.84,205.31 L1351.79,204.93 L1351.74,204.55 L1351.69,204.17 L1351.64,203.79 L1351.60,203.40 L1351.55,203.02 L1351.50,202.63 L1351.46,202.24 L1351.42,201.85 L1351.37,201.45 L1351.33,201.06 L1351.29,200.66 L1351.25,200.26 L1351.21,199.86 L1351.17,199.45 L1351.13,199.05 L1351.10,198.64 L1351.06,198.24 L1351.03,197.83 L1350.99,197.42 L1350.96,197.00 L1350.93,196.59 L1350.90,196.18 L1350.87,195.76 L1350.84,195.34 L1350.81,194.92 L1350.79,194.50 L1350.76,194.08 L1350.74,193.66 L1350.72,193.23 L1350.70,192.81 L1350.68,192.38 L1350.66,191.96 L1350.64,191.53 L1350.62,191.10 L1350.61,190.67 L1350.60,190.24 L1350.58,189.81 L1350.57,189.38 L1350.56,188.94 L1350.56,188.51 L1350.55,188.08 L1350.54,187.64 L1350.54,187.21 L1350.54,186.77 L1350.54,186.33 L1350.54,185.90 L1350.54,185.46 L1350.54,185.02 L1350.55,184.59 L1350.55,184.15 L1350.56,183.71 L1350.57,183.27 L1350.58,182.83 L1350.59,182.39 L1350.61,181.95 L1350.62,181.51 L1350.64,178.40 L1350.66,175.92 L1350.68,174.27 L1350.70,172.94 L1350.73,171.80 L1350.75,170.78 L1350.78,169.85 L1350.81,168.99 L1350.84,168.19 L1350.87,167.44 L1350.91,166.73 L1350.94,166.05 L1350.98,165.40 L1351.02,164.77 L1351.06,164.17 L1351.11,163.59 L1351.15,163.03 L1351.20,162.49 L1351.25,161.97 L1351.30,161.45 L1351.35,160.96 L1351.40,160.47 L1351.46,160.00 L1351.52,159.54 L1351.58,159.09 L1351.64,158.64 L1351.70,158.21 L1351.77,157.79 L1351.84,157.38 L1351.90,156.97 L1351.98,156.57 L1352.05,156.18 L1352.12,155.80 L1352.20,155.42 L1352.28,155.05 L1352.36,154.69 L1352.45,154.33 L1352.53,153.98 L1352.62,153.63 L1352.71,153.29 L1352.80,152.95 L1352.89,152.62 L1352.99,152.30 L1353.08,151.98 L1353.18,151.66 L1353.28,151.35 L1353.39,151.04 L1353.49,150.74 L1353.60,150.44 L1353.71,150.15 L1353.82,149.86 L1353.93,149.58 L1354.05,149.30 L1354.17,149.02 L1354.28,148.74 L1354.41,148.47 L1354.53,148.21 L1354.65,147.95 L1354.78,147.69 L1354.91,147.43 L1355.04,147.18 L1355.18,146.93 L1355.31,146.69 L1355.45,146.44 L1355.59,146.20 L1355.73,145.97 L1355.87,145.74 L1356.02,145.51 L1356.17,145.28 L1356.32,145.06 L1356.47,144.84 L1356.62,144.62 L1356.78,144.40 L1356.93,144.19 L1357.09,143.98 L1357.25,143.78 L1357.42,143.58 L1357.58,143.37 L1357.75,143.18 L1357.92,142.98 L1358.09,142.79 L1358.26,142.60 L1358.44,142.41 L1358.61,142.23 L1358.79,142.05 L1358.97,141.87 L1359.15,141.69 L1359.34,141.52 L1359.52,141.35 L1359.71,141.18 L1359.90,141.01 L1360.09,140.85 L1360.28,140.69 L1360.48,140.53 L1360.67,140.37 L1360.87,140.22 L1361.07,140.07 L1361.27,139.92 L1361.48,139.77 L1361.68,139.63 L1361.89,139.49 L1362.09,139.35 L1362.30,139.21 L1362.51,139.07 L1362.73,138.94 L1362.94,138.81 L1363.16,138.68 L1363.37,138.56 L1363.59,138.43 L1363.81,138.31 L1364.03,138.19 L1364.26,138.08 L1364.48,137.96 L1364.71,137.85 L1364.93,137.74 L1365.16,137.63 L1365.39,137.53 L1365.62,137.42 L1365.86,137.32 L1366.09,137.23 L1366.32,137.13 L1366.56,137.03 L1366.80,136.94 L1367.04,136.85 L1367.27,136.76 L1367.52,136.68 L1367.76,136.60 L1368.00,136.51 L1368.24,136.44 L1368.49,136.36 L1368.73,136.28 L1368.98,136.21 L1369.23,136.14 L1369.48,136.07 L1369.73,136.01 L1369.98,135.94 L1370.23,135.88 L1370.48,135.82 L1370.73,135.76 L1370.99,135.71 L1371.24,135.65 L1371.50,135.60 L1371.75,135.55 L1372.01,135.51 L1372.27,135.46 L1372.52,135.42 L1372.78,135.38 L1373.04,135.34 L1373.30,135.30 L1373.56,135.27 L1373.82,135.23 L1374.08,135.20 L1374.34,135.18 L1374.60,135.15 L1374.87,135.13 L1375.13,135.10 L1375.39,135.08 L1375.65,135.07 L1375.92,135.05 L1376.18,135.04 L1376.44,135.03 L1376.71,135.02 L1376.97,135.01 L1377.23,135.00 L1377.50,135.00 L1377.76,135.00 L1378.02,135.00 L1378.29,135.00 L1378.55,135.01 L1378.82,135.02 L1379.08,135.03 L1379.34,135.04 L1379.61,135.05 L1379.87,135.07 L1380.13,135.08 L1380.39,135.10 L1380.66,135.13 L1380.92,135.15 L1381.18,135.18 L1381.44,135.20 L1381.70,135.23 L1381.96,135.27 L1382.22,135.30 L1382.48,135.34 L1382.74,135.38 L1383.00,135.42 L1383.25,135.46 L1383.51,135.51 L1383.77,135.55 L1384.02,135.60 L1384.28,135.65 L1384.53,135.71 L1384.79,135.76 L1385.04,135.82 L1385.29,135.88 L1385.54,135.94 L1385.79,136.01 L1386.04,136.07 L1386.29,136.14 L1386.54,136.21 L1386.79,136.28 L1387.03,136.36 L1387.28,136.44 L1387.52,136.51 L1387.76,136.60 L1388.01,136.68 L1388.25,136.76 L1388.49,136.85 L1388.72,136.94 L1388.96,137.03 L1389.20,137.13 L1389.43,137.23 L1389.67,137.32 L1389.90,137.42 L1390.13,137.53 L1390.36,137.63 L1390.59,137.74 L1390.81,137.85 L1391.04,137.96 L1391.26,138.08 L1391.49,138.19 L1391.71,138.31 L1391.93,138.43 L1392.15,138.56 L1392.37,138.68 L1392.58,138.81 L1392.79,138.94 L1393.01,139.07 L1393.22,139.21 L1393.43,139.35 L1393.64,139.49 L1393.84,139.63 L1394.05,139.77 L1394.25,139.92 L1394.45,140.07 L1394.65,140.22 L1394.85,140.37 L1395.04,140.53 L1395.24,140.69 L1395.43,140.85 L1395.62,141.01 L1395.81,141.18 L1396.00,141.35 L1396.18,141.52 L1396.37,141.69 L1396.55,141.87 L1396.73,142.05 L1396.91,142.23 L1397.08,142.41 L1397.26,142.60 L1397.43,142.79 L1397.60,142.98 L1397.77,143.18 L1397.94,143.37 L1398.10,143.58 L1398.27,143.78 L1398.43,143.98 L1398.59,144.19 L1398.74,144.40 L1398.90,144.62 L1399.05,144.84 L1399.20,145.06 L1399.35,145.28 L1399.50,145.51 L1399.65,145.74 L1399.79,145.97 L1399.93,146.20 L1400.07,146.44 L1400.21,146.69 L1400.34,146.93 L1400.48,147.18 L1400.61,147.43 L1400.74,147.69 L1400.87,147.95 L1400.99,148.21 L1401.12,148.47 L1401.24,148.74 L1401.36,149.02 L1401.47,149.30 L1401.59,149.58 L1401.70,149.86 L1401.81,150.15 L1401.92,150.44 L1402.03,150.74 L1402.13,151.04 L1402.24,151.35 L1402.34,151.66 L1402.44,151.98 L1402.54,152.30 L1402.63,152.62 L1402.72,152.95 L1402.81,153.29 L1402.90,153.63 L1402.99,153.98 L1403.08,154.33 L1403.16,154.69 L1403.24,155.05 L1403.32,155.42 L1403.40,155.80 L1403.47,156.18 L1403.55,156.57 L1403.62,156.97 L1403.69,157.38 L1403.75,157.79 L1403.82,158.21 L1403.88,158.64 L1403.94,159.09 L1404.00,159.54 L1404.06,160.00 L1404.12,160.47 L1404.17,160.96 L1404.23,161.45 L1404.28,161.97 L1404.32,162.49 L1404.37,163.03 L1404.42,163.59 L1404.46,164.17 L1404.50,164.77 L1404.54,165.40 L1404.58,166.05 L1404.61,166.73 L1404.65,167.44 L1404.68,168.19 L1404.71,168.99 L1404.74,169.85 L1404.77,170.78 L1404.79,171.80 L1404.82,172.94 L1404.84,174.27 L1404.86,175.92 L1404.88,178.40 L1404.90,181.51 L1404.91,181.95 L1404.93,182.39 L1404.94,182.83 L1404.95,183.27 L1404.96,183.71 L1404.97,184.15 L1404.97,184.59 L1404.98,185.02 L1404.98,185.46 L1404.98,185.90 L1404.99,186.33 L1404.98,186.77 L1404.98,187.21 L1404.98,187.64 L1404.97,188.08 L1404.97,188.51 L1404.96,188.94 L1404.95,189.38 L1404.94,189.81 L1404.93,190.24 L1404.91,190.67 L1404.90,191.10 L1404.88,191.53 L1404.86,191.96 L1404.84,192.38 L1404.83,192.81 L1404.80,193.23 L1404.78,193.66 L1404.76,194.08 L1404.73,194.50 L1404.71,194.92 L1404.68,195.34 L1404.65,195.76 L1404.62,196.18 L1404.59,196.59 L1404.56,197.00 L1404.53,197.42 L1404.50,197.83 L1404.46,198.24 L1404.43,198.64 L1404.39,199.05 L1404.35,199.45 L1404.31,199.86 L1404.27,200.26 L1404.23,200.66 L1404.19,201.06 L1404.15,201.45 L1404.11,201.85 L1404.06,202.24 L1404.02,202.63 L1403.97,203.02 L1403.92,203.40 L1403.88,203.79 L1403.83,204.17 L1403.78,204.55 L1403.73,204.93 L1403.68,205.31 L1403.63,205.68 L1403.58,206.05 L1403.52,206.42 L1403.47,206.79 L1403.42,207.15 L1403.36,207.52 L1403.30,207.88 L1403.25,208.24 L1403.19,208.59 L1403.13,208.94 L1403.08,209.29 L1403.02,209.64 L1402.96,209.99 L1402.90,210.33 L1402.84,210.67 L1402.78,211.01 L1402.72,211.34 L1402.65,211.68 L1402.59,212.01 L1402.53,212.33 L1402.46,212.66 L1402.40,212.98 L1402.34,213.29 L1402.27,213.61 L1402.20,213.92 L1402.14,214.23 L1402.07,214.54 L1402.01,214.84 L1401.94,215.14 L1401.87,215.44 L1401.80,215.73 L1401.74,216.02 L1401.67,216.31 L1401.60,216.60 L1401.53,216.88 L1401.46,217.16 L1401.39,217.43 L1401.32,217.70 L1401.25,217.97 L1401.18,218.24 L1401.11,218.50 L1401.03,218.76 L1400.96,219.01 L1400.89,219.27 L1400.82,219.52 L1400.75,219.76 L1400.67,220.00 L1400.60,220.24 L1400.53,220.47 L1400.45,220.71 L1400.38,220.93 L1400.31,221.16 L1400.23,221.38 L1400.16,221.59 L1400.08,221.81 L1400.01,222.02 L1399.93,222.22 L1399.86,222.42 L1399.78,222.62 L1399.71,222.82 L1399.63,223.01 L1399.56,223.19 L1399.48,223.38 L1399.41,223.56 L1399.33,223.73 L1399.25,223.90 L1399.18,224.07 L1399.10,224.24 L1399.03,224.40 L1398.95,224.55 L1398.87,224.70 L1398.80,224.85 L1398.72,225.00 L1398.64,225.14 L1398.56,225.27 L1398.49,225.41 L1398.41,225.54 L1398.33,225.66 L1398.26,225.78 L1398.18,225.90 L1398.10,226.01 L1398.02,226.12 L1397.95,226.22 L1397.87,226.32 L1397.79,226.42 L1397.71,226.51 L1397.64,226.60 L1397.56,226.68 L1397.48,226.76 L1397.40,226.84 L1397.32,226.91 L1397.25,226.98 L1397.17,227.04 L1397.09,227.10 L1397.01,227.16 L1396.94,227.21 L1396.86,227.26 L1396.78,227.30 L1396.70,227.34 L1396.62,227.37 L1396.54,227.40 L1396.47,227.43 L1396.39,227.45 L1396.31,227.47 L1396.23,227.48 L1396.15,227.49 L1396.08,227.50 L1396.00,227.50 L1395.92,227.50 L1395.84,227.49 L1395.76,227.48 L1395.69,227.46 L1395.61,227.44 L1395.53,227.42 L1395.45,227.39 L1395.37,227.36 L1395.29,227.32 L1395.22,227.28 L1395.14,227.24 L1395.06,227.19 L1394.98,227.14 L1394.90,227.08 L1394.83,227.02 L1394.75,226.95 L1394.67,226.88 L1394.59,226.81 L1394.51,226.73 L1394.44,226.65 L1394.36,226.57 L1394.28,226.48 L1394.20,226.38 L1394.13,226.28 L1394.05,226.18 L1393.97,226.08 L1393.89,225.97 L1393.82,225.85 L1393.74,225.73 L1393.66,225.61 L1393.58,225.48 L1393.51,225.35 L1393.43,225.22 L1393.35,225.08 L1393.28,224.94 L1393.20,224.79 L1393.12,224.64 L1393.05,224.49 L1392.97,224.33 L1392.89,224.17 L1392.82,224.00 L1392.74,223.84 L1392.67,223.66 L1392.59,223.48 L1392.51,223.30 L1392.44,223.12 L1392.36,222.93 L1392.29,222.74 L1392.21,222.54 L1392.14,222.34 L1392.06,222.14 L1391.99,221.93 L1391.91,221.72 L1391.84,221.51 L1391.77,221.29 L1391.69,221.07 L1391.62,220.84 L1391.54,220.61 L1391.47,220.38 L1391.40,220.15 L1391.32,219.91 L1391.25,219.66 L1391.18,219.42 L1391.11,219.17 L1391.04,218.91 L1390.96,218.66 L1390.89,218.40 L1390.82,218.13 L1390.75,217.87 L1390.68,217.60 L1390.61,217.32 L1390.54,217.05 L1390.47,216.77 L1390.40,216.48 L1390.33,216.20 L1390.26,215.91 L1390.20,215.62 L1390.13,215.32 L1390.06,215.02 L1389.99,214.72 L1389.93,214.42 L1389.86,214.11 L1389.80,213.80 L1389.73,213.48 L1389.67,213.17 L1389.60,212.85 L1389.54,212.53 L1389.47,212.20 L1389.41,211.87 L1389.35,211.54 L1389.29,211.21 L1389.23,210.87 L1389.16,210.54 L1389.10,210.19 L1389.04,209.85 L1388.99,209.50 L1388.93,209.16 L1388.87,208.80 L1388.81,208.45 L1388.76,208.09 L1388.70,207.73 L1388.64,207.37 L1388.59,207.01 L1388.54,206.64 L1388.48,206.28 L1388.43,205.90 L1388.38,205.53 L1388.33,205.16 L1388.28,204.78 L1388.23,204.40 L1388.18,204.02 L1388.13,203.64 L1388.08,203.25 L1388.04,202.86 L1387.99,202.47 L1387.95,202.08 L1387.90,201.69 L1387.86,201.29 L1387.82,200.90 L1387.78,200.50 L1387.74,200.10 L1387.70,199.70 L1387.66,199.29 L1387.62,198.89 L1387.59,198.48 L1387.55,198.07 L1387.52,197.66 L1387.48,197.25 L1387.45,196.84 L1387.42,196.43 L1387.39,196.01 L1387.36,195.59 L1387.33,195.17 L1387.31,194.75 L1387.28,194.33 L1387.26,193.91 L1387.24,193.49 L1387.21,193.07 L1387.19,192.64 L1387.17,192.21 L1387.16,191.79 L1387.14,191.36 L1387.12,190.93 L1387.11,190.50 L1387.10,190.07 L1387.08,189.64 L1387.07,189.20 L1387.07,188.77 L1387.06,188.34 L1387.05,187.90 L1387.05,187.47 L1387.04,187.03 L1387.04,186.60 L1387.04,186.16 L1387.04,185.72 L1387.04,185.29 L1387.05,184.85 L1387.05,184.41 L1387.06,183.97 L1387.07,183.53 L1387.08,183.09 L1387.09,182.66 L1387.10,182.22 L1387.12,181.78 L1387.14,181.34 L1387.15,177.22 L1387.17,175.21 L1387.20,173.71 L1387.22,172.47 L1387.24,171.38 L1387.27,170.40 L1387.30,169.50 L1387.33,168.67 L1387.36,167.89 L1387.39,167.15 L1387.43,166.45 L1387.46,165.78 L1387.50,165.15 L1387.54,164.53 L1387.58,163.94 L1387.63,163.37 L1387.67,162.82 L1387.72,162.28 L1387.77,161.76 L1387.82,161.25 L1387.88,160.76 L1387.93,160.28 L1387.99,159.81 L1388.05,159.36 L1388.11,158.91 L1388.17,158.47 L1388.23,158.04 L1388.30,157.62 L1388.37,157.21 L1388.44,156.81 L1388.51,156.41 L1388.58,156.03 L1388.66,155.65 L1388.74,155.27 L1388.82,154.90 L1388.90,154.54 L1388.98,154.19 L1389.07,153.84 L1389.16,153.49 L1389.25,153.15 L1389.34,152.82 L1389.43,152.49 L1389.53,152.17 L1389.63,151.85 L1389.73,151.54 L1389.83,151.23 L1389.93,150.92 L1390.04,150.62 L1390.15,150.33 L1390.26,150.04 L1390.37,149.75 L1390.48,149.46 L1390.60,149.18 L1390.72,148.91 L1390.84,148.64 L1390.96,148.37 L1391.08,148.10 L1391.21,147.84 L1391.34,147.58 L1391.47,147.33 L1391.60,147.08 L1391.74,146.83 L1391.87,146.59 L1392.01,146.35 L1392.15,146.11 L1392.29,145.88 L1392.44,145.64 L1392.58,145.42 L1392.73,145.19 L1392.88,144.97 L1393.03,144.75 L1393.19,144.53 L1393.34,144.32 L1393.50,144.11 L1393.66,143.90 L1393.82,143.70 L1393.99,143.49 L1394.15,143.30 L1394.32,143.10 L1394.49,142.91 L1394.66,142.71 L1394.84,142.53 L1395.01,142.34 L1395.19,142.16 L1395.37,141.98 L1395.55,141.80 L1395.73,141.62 L1395.92,141.45 L1396.10,141.28 L1396.29,141.11 L1396.48,140.95 L1396.67,140.78 L1396.87,140.62 L1397.06,140.47 L1397.26,140.31 L1397.46,140.16 L1397.66,140.01 L1397.86,139.86 L1398.06,139.71 L1398.27,139.57 L1398.47,139.43 L1398.68,139.29 L1398.89,139.15 L1399.10,139.02 L1399.32,138.89 L1399.53,138.76 L1399.75,138.63 L1399.97,138.51 L1400.18,138.39 L1400.41,138.27 L1400.63,138.15 L1400.85,138.03 L1401.08,137.92 L1401.30,137.81 L1401.53,137.70 L1401.76,137.59 L1401.99,137.49 L1402.22,137.38 L1402.45,137.28 L1402.69,137.19 L1402.92,137.09 L1403.16,137.00 L1403.40,136.91 L1403.64,136.82 L1403.88,136.73 L1404.12,136.65 L1404.36,136.56 L1404.60,136.48 L1404.85,136.40 L1405.09,136.33 L1405.34,136.25 L1405.59,136.18 L1405.83,136.11 L1406.08,136.05 L1406.33,135.98 L1406.58,135.92 L1406.83,135.86 L1407.09,135.80 L1407.34,135.74 L1407.59,135.69 L1407.85,135.63 L1408.10,135.58 L1408.36,135.53 L1408.62,135.49 L1408.87,135.44 L1409.13,135.40 L1409.39,135.36 L1409.65,135.32 L1409.91,135.29 L1410.17,135.25 L1410.43,135.22 L1410.69,135.19 L1410.95,135.17 L1411.21,135.14 L1411.48,135.12 L1411.74,135.10 L1412.00,135.08 L1412.26,135.06 L1412.53,135.05 L1412.79,135.03 L1413.05,135.02 L1413.32,135.01 L1413.58,135.01 L1413.84,135.00 L1414.11,135.00 L1414.37,135.00 L1414.63,135.00 L1414.90,135.01 L1415.16,135.01 L1415.43,135.02 L1415.69,135.03 L1415.95,135.04 L1416.22,135.06 L1416.48,135.07 L1416.74,135.09 L1417.00,135.11 L1417.26,135.14 L1417.53,135.16 L1417.79,135.19 L1418.05,135.22 L1418.31,135.25 L1418.57,135.28 L1418.83,135.32 L1419.09,135.35 L1419.35,135.39 L1419.60,135.43 L1419.86,135.48 L1420.12,135.52 L1420.38,135.57 L1420.63,135.62 L1420.89,135.67 L1421.14,135.73 L1421.39,135.79 L1421.65,135.84 L1421.90,135.90 L1422.15,135.97 L1422.40,136.03 L1422.65,136.10 L1422.90,136.17 L1423.14,136.24 L1423.39,136.31 L1423.64,136.39 L1423.88,136.47 L1424.12,136.55 L1424.37,136.63 L1424.61,136.71 L1424.85,136.80 L1425.09,136.89 L1425.32,136.98 L1425.56,137.07 L1425.80,137.17 L1426.03,137.26 L1426.26,137.36 L1426.50,137.47 L1426.73,137.57 L1426.96,137.68 L1427.18,137.78 L1427.41,137.90 L1427.64,138.01 L1427.86,138.12 L1428.08,138.24 L1428.30,138.36 L1428.52,138.48 L1428.74,138.61 L1428.96,138.73 L1429.17,138.86 L1429.38,138.99 L1429.60,139.13 L1429.81,139.26 L1430.02,139.40 L1430.22,139.54 L1430.43,139.68 L1430.63,139.83 L1430.83,139.98 L1431.04,140.13 L1431.23,140.28 L1431.43,140.43 L1431.63,140.59 L1431.82,140.75 L1432.01,140.91 L1432.20,141.08 L1432.39,141.25 L1432.58,141.42 L1432.76,141.59 L1432.95,141.76 L1433.13,141.94 L1433.31,142.12 L1433.48,142.30 L1433.66,142.49 L1433.83,142.68 L1434.01,142.87 L1434.18,143.06 L1434.34,143.26 L1434.51,143.45 L1434.67,143.66 L1434.84,143.86 L1435.00,144.07 L1435.16,144.28 L1435.31,144.49 L1435.47,144.71 L1435.62,144.92 L1435.77,145.15 L1435.92,145.37 L1436.07,145.60 L1436.21,145.83 L1436.35,146.06 L1436.49,146.30 L1436.63,146.54 L1436.77,146.78 L1436.90,147.03 L1437.04,147.28 L1437.17,147.53 L1437.30,147.79 L1437.42,148.05 L1437.55,148.31 L1437.67,148.58 L1437.79,148.85 L1437.91,149.13 L1438.02,149.41 L1438.14,149.69 L1438.25,149.98 L1438.36,150.27 L1438.47,150.56 L1438.58,150.86 L1438.68,151.17 L1438.78,151.47 L1438.88,151.79 L1438.98,152.10 L1439.08,152.43 L1439.17,152.75 L1439.27,153.09 L1439.36,153.42 L1439.44,153.77 L1439.53,154.12 L1439.61,154.47 L1439.70,154.83 L1439.78,155.20 L1439.86,155.57 L1439.93,155.95 L1440.01,156.34 L1440.08,156.73 L1440.15,157.13 L1440.22,157.54 L1440.29,157.96 L1440.35,158.38 L1440.41,158.82 L1440.47,159.26 L1440.53,159.72 L1440.59,160.19 L1440.65,160.66 L1440.70,161.15 L1440.75,161.66 L1440.80,162.17 L1440.85,162.71 L1440.89,163.25 L1440.94,163.82 L1440.98,164.41 L1441.02,165.02 L1441.06,165.65 L1441.10,166.31 L1441.13,167.01 L1441.17,167.74 L1441.20,168.51 L1441.23,169.33 L1441.26,170.21 L1441.28,171.17 L1441.31,172.23 L1441.33,173.44 L1441.35,174.87 L1441.37,176.74 L1441.39,181.04 L1441.41,181.69 L1441.42,182.13 L1441.44,182.57 L1441.45,183.01 L1441.46,183.44 L1441.47,183.88 L1441.48,184.32 L1441.48,184.76 L1441.49,185.20 L1441.49,185.63 L1441.49,186.07 L1441.49,186.51 L1441.49,186.94 L1441.49,187.38 L1441.48,187.82 L1441.48,188.25 L1441.47,188.68 L1441.46,189.12 L1441.45,189.55 L1441.44,189.98 L1441.43,190.41 L1441.41,190.84 L1441.40,191.27 L1441.38,191.70 L1441.36,192.13 L1441.34,192.55 L1441.32,192.98 L1441.30,193.40 L1441.28,193.83 L1441.25,194.25 L1441.23,194.67 L1441.20,195.09 L1441.18,195.51 L1441.15,195.92 L1441.12,196.34 L1441.09,196.76 L1441.05,197.17 L1441.02,197.58 L1440.99,197.99 L1440.95,198.40 L1440.92,198.81 L1440.88,199.21 L1440.84,199.62 L1440.80,200.02 L1440.76,200.42 L1440.72,200.82 L1440.68,201.21 L1440.64,201.61 L1440.59,202.00 L1440.55,202.39 L1440.50,202.78 L1440.46,203.17 L1440.41,203.56 L1440.36,203.94 L1440.31,204.32 L1440.27,204.70 L1440.22,205.08 L1440.16,205.46 L1440.11,205.83 L1440.06,206.20 L1440.01,206.57 L1439.95,206.94 L1439.90,207.30 L1439.84,207.66 L1439.79,208.02 L1439.73,208.38 L1439.67,208.73 L1439.62,209.08 L1439.56,209.43 L1439.50,209.78 L1439.44,210.12 L1439.38,210.47 L1439.32,210.81 L1439.26,211.14 L1439.20,211.48 L1439.13,211.81 L1439.07,212.14 L1439.01,212.46 L1438.94,212.78 L1438.88,213.10 L1438.81,213.42 L1438.75,213.73 L1438.68,214.05 L1438.62,214.35 L1438.55,214.66 L1438.48,214.96 L1438.42,215.26 L1438.35,215.56 L1438.28,215.85 L1438.21,216.14 L1438.14,216.43 L1438.08,216.71 L1438.01,216.99 L1437.94,217.27 L1437.87,217.54 L1437.80,217.81 L1437.72,218.08 L1437.65,218.34 L1437.58,218.60 L1437.51,218.86 L1437.44,219.12 L1437.37,219.37 L1437.29,219.61 L1437.22,219.86 L1437.15,220.10 L1437.08,220.33 L1437.00,220.57 L1436.93,220.80 L1436.86,221.02 L1436.78,221.24 L1436.71,221.46 L1436.63,221.68 L1436.56,221.89 L1436.48,222.10 L1436.41,222.30 L1436.33,222.50 L1436.26,222.70 L1436.18,222.89 L1436.11,223.08 L1436.03,223.27 L1435.96,223.45 L1435.88,223.63 L1435.81,223.80 L1435.73,223.97 L1435.65,224.14 L1435.58,224.30 L1435.50,224.46 L1435.42,224.61 L1435.35,224.76 L1435.27,224.91 L1435.19,225.05 L1435.12,225.19 L1435.04,225.33 L1434.96,225.46 L1434.89,225.59 L1434.81,225.71 L1434.73,225.83 L1434.65,225.94 L1434.58,226.05 L1434.50,226.16 L1434.42,226.26 L1434.34,226.36 L1434.27,226.46 L1434.19,226.55 L1434.11,226.63 L1434.03,226.72 L1433.95,226.80 L1433.88,226.87 L1433.80,226.94 L1433.72,227.01 L1433.64,227.07 L1433.57,227.13 L1433.49,227.18 L1433.41,227.23 L1433.33,227.27 L1433.25,227.32 L1433.18,227.35 L1433.10,227.39 L1433.02,227.41 L1432.94,227.44 L1432.86,227.46 L1432.78,227.48 L1432.71,227.49 L1432.63,227.50 L1432.55,227.50 L1432.47,227.50 L1432.39,227.49 L1432.32,227.49 L1432.24,227.47 L1432.16,227.46 L1432.08,227.43 L1432.00,227.41 L1431.92,227.38 L1431.85,227.35 L1431.77,227.31 L1431.69,227.27 L1431.61,227.22 L1431.53,227.17 L1431.46,227.11 L1431.38,227.06 L1431.30,226.99 L1431.22,226.93 L1431.14,226.86 L1431.07,226.78 L1430.99,226.70 L1430.91,226.62 L1430.83,226.53 L1430.76,226.44 L1430.68,226.34 L1430.60,226.24 L1430.52,226.14 L1430.45,226.03 L1430.37,225.92 L1430.29,225.80 L1430.21,225.68 L1430.14,225.56 L1430.06,225.43 L1429.98,225.30 L1429.91,225.17 L1429.83,225.03 L1429.75,224.88 L1429.68,224.73 L1429.60,224.58 L1429.52,224.43 L1429.45,224.27 L1429.37,224.10 L1429.29,223.94 L1429.22,223.77 L1429.14,223.59 L1429.07,223.41 L1428.99,223.23 L1428.91,223.04 L1428.84,222.85 L1428.76,222.66 L1428.69,222.46 L1428.61,222.26 L1428.54,222.06 L1428.46,221.85 L1428.39,221.64 L1428.32,221.42 L1428.24,221.20 L1428.17,220.98 L1428.09,220.75 L1428.02,220.52 L1427.95,220.29 L1427.87,220.05 L1427.80,219.81 L1427.73,219.57 L1427.66,219.32 L1427.58,219.07 L1427.51,218.81 L1427.44,218.55 L1427.37,218.29 L1427.30,218.03 L1427.23,217.76 L1427.16,217.49 L1427.09,217.21 L1427.02,216.94 L1426.95,216.66 L1426.88,216.37 L1426.81,216.08 L1426.74,215.79 L1426.67,215.50 L1426.61,215.20 L1426.54,214.90 L1426.47,214.60 L1426.41,214.29 L1426.34,213.99 L1426.28,213.67 L1426.21,213.36 L1426.15,213.04 L1426.08,212.72 L1426.02,212.40 L1425.95,212.07 L1425.89,211.74 L1425.83,211.41 L1425.77,211.08 L1425.71,210.74 L1425.65,210.40 L1425.59,210.06 L1425.53,209.71 L1425.47,209.37 L1425.41,209.02 L1425.35,208.66 L1425.29,208.31 L1425.24,207.95 L1425.18,207.59 L1425.13,207.23 L1425.07,206.86 L1425.02,206.50 L1424.97,206.13 L1424.91,205.76 L1424.86,205.38 L1424.81,205.01 L1424.76,204.63 L1424.71,204.25 L1424.66,203.87 L1424.62,203.48 L1424.57,203.10 L1424.52,202.71 L1424.48,202.32 L1424.43,201.93 L1424.39,201.53 L1424.35,201.14 L1424.31,200.74 L1424.27,200.34 L1424.23,199.94 L1424.19,199.54 L1424.15,199.13 L1424.11,198.73 L1424.08,198.32 L1424.04,197.91 L1424.01,197.50 L1423.98,197.09 L1423.94,196.67 L1423.91,196.26 L1423.89,195.84 L1423.86,195.43 L1423.83,195.01 L1423.80,194.59 L1423.78,194.17 L1423.75,193.74 L1423.73,193.32 L1423.71,192.90 L1423.69,192.47 L1423.67,192.04 L1423.65,191.62 L1423.64,191.19 L1423.62,190.76 L1423.61,190.33 L1423.60,189.90 L1423.59,189.47 L1423.58,189.03 L1423.57,188.60 L1423.56,188.17 L1423.56,187.73 L1423.55,187.30 L1423.55,186.86 L1423.55,186.42 L1423.55,185.99 L1423.55,185.55 L1423.55,185.11 L1423.56,184.67 L1423.56,184.24 L1423.57,183.80 L1423.58,183.36 L1423.59,182.92 L1423.60,182.48 L1423.62,182.04 L1423.63,181.60 L1423.65,179.25 L1423.67,176.32 L1423.69,174.57 L1423.71,173.19 L1423.73,172.02 L1423.76,170.98 L1423.79,170.03 L1423.81,169.16 L1423.84,168.35 L1423.88,167.59 L1423.91,166.87 L1423.95,166.18 L1423.98,165.53 L1424.02,164.90 L1424.06,164.29 L1424.11,163.71 L1424.15,163.15 L1424.20,162.60 L1424.25,162.07 L1424.30,161.56 L1424.35,161.06 L1424.40,160.57 L1424.46,160.09 L1424.52,159.63 L1424.57,159.18 L1424.64,158.73 L1424.70,158.30 L1424.76,157.88 L1424.83,157.46 L1424.90,157.05 L1424.97,156.65 L1425.04,156.26 L1425.12,155.87 L1425.20,155.50 L1425.28,155.12 L1425.36,154.76 L1425.44,154.40 L1425.52,154.05 L1425.61,153.70 L1425.70,153.36 L1425.79,153.02 L1425.88,152.69 L1425.98,152.36 L1426.07,152.04 L1426.17,151.73 L1426.27,151.41 L1426.38,151.11 L1426.48,150.80 L1426.59,150.50 L1426.70,150.21 L1426.81,149.92 L1426.92,149.63 L1427.03,149.35 L1427.15,149.07 L1427.27,148.80 L1427.39,148.53 L1427.51,148.26 L1427.64,148.00 L1427.77,147.74 L1427.90,147.48 L1428.03,147.23 L1428.16,146.98 L1428.29,146.73 L1428.43,146.49 L1428.57,146.25 L1428.71,146.02 L1428.86,145.78 L1429.00,145.55 L1429.15,145.33 L1429.30,145.10 L1429.45,144.88 L1429.60,144.66 L1429.76,144.45 L1429.91,144.24 L1430.07,144.03 L1430.23,143.82 L1430.40,143.62 L1430.56,143.42 L1430.73,143.22 L1430.89,143.02 L1431.07,142.83 L1431.24,142.64 L1431.41,142.45 L1431.59,142.27 L1431.77,142.09 L1431.95,141.91 L1432.13,141.73 L1432.31,141.55 L1432.50,141.38 L1432.68,141.21 L1432.87,141.05 L1433.06,140.88 L1433.25,140.72 L1433.45,140.56 L1433.64,140.40 L1433.84,140.25 L1434.04,140.10 L1434.24,139.95 L1434.44,139.80 L1434.65,139.66 L1434.85,139.51 L1435.06,139.37 L1435.27,139.24 L1435.48,139.10 L1435.69,138.97 L1435.91,138.84 L1436.12,138.71 L1436.34,138.58 L1436.56,138.46 L1436.78,138.34 L1437.00,138.22 L1437.22,138.10 L1437.45,137.99 L1437.67,137.87 L1437.90,137.76 L1438.13,137.66 L1438.36,137.55 L1438.59,137.45 L1438.82,137.34 L1439.05,137.25 L1439.29,137.15 L1439.52,137.05 L1439.76,136.96 L1440.00,136.87 L1440.24,136.78 L1440.48,136.70 L1440.72,136.61 L1440.96,136.53 L1441.20,136.45 L1441.45,136.37 L1441.69,136.30 L1441.94,136.23 L1442.19,136.15 L1442.44,136.09 L1442.69,136.02 L1442.94,135.95 L1443.19,135.89 L1443.44,135.83 L1443.69,135.77 L1443.95,135.72 L1444.20,135.66 L1444.46,135.61 L1444.71,135.56 L1444.97,135.52 L1445.23,135.47 L1445.48,135.43 L1445.74,135.39 L1446.00,135.35 L1446.26,135.31 L1446.52,135.27 L1446.78,135.24 L1447.04,135.21 L1447.30,135.18 L1447.56,135.16 L1447.82,135.13 L1448.09,135.11 L1448.35,135.09 L1448.61,135.07 L1448.87,135.05 L1449.14,135.04 L1449.40,135.03 L1449.66,135.02 L1449.93,135.01 L1450.19,135.01 L1450.45,135.00 L1450.72,135.00 L1450.98,135.00 L1451.24,135.00 L1451.51,135.01 L1451.77,135.02 L1452.04,135.02 L1452.30,135.04 L1452.56,135.05 L1452.83,135.06 L1453.09,135.08 L1453.35,135.10 L1453.61,135.12 L1453.87,135.15 L1454.14,135.17 L1454.40,135.20 L1454.66,135.23 L1454.92,135.26 L1455.18,135.29 L1455.44,135.33 L1455.70,135.37 L1455.95,135.41 L1456.21,135.45 L1456.47,135.50 L1456.73,135.54 L1456.98,135.59 L1457.24,135.64 L1457.49,135.70 L1457.75,135.75 L1458.00,135.81 L1458.25,135.87 L1458.50,135.93 L1458.75,135.99 L1459.00,136.06 L1459.25,136.13 L1459.50,136.20 L1459.75,136.27 L1459.99,136.34 L1460.24,136.42 L1460.48,136.50 L1460.73,136.58 L1460.97,136.66 L1461.21,136.75 L1461.45,136.83 L1461.69,136.92 L1461.92,137.02 L1462.16,137.11 L1462.40,137.21 L1462.63,137.30 L1462.86,137.40 L1463.09,137.51 L1463.32,137.61 L1463.55,137.72 L1463.78,137.83 L1464.01,137.94 L1464.23,138.05 L1464.45,138.17 L1464.67,138.29 L1464.90,138.41 L1465.11,138.53 L1465.33,138.66 L1465.55,138.78 L1465.76,138.91 L1465.97,139.05 L1466.19,139.18 L1466.40,139.32 L1466.60,139.46 L1466.81,139.60 L1467.02,139.74 L1467.22,139.89 L1467.42,140.04 L1467.62,140.19 L1467.82,140.34 L1468.01,140.50 L1468.21,140.66 L1468.40,140.82 L1468.59,140.98 L1468.78,141.15 L1468.97,141.31 L1469.16,141.48 L1469.34,141.66 L1469.52,141.83 L1469.70,142.01 L1469.88,142.19 L1470.06,142.38 L1470.23,142.56 L1470.41,142.75 L1470.58,142.94 L1470.75,143.14 L1470.92,143.33 L1471.08,143.53 L1471.24,143.74 L1471.41,143.94 L1471.57,144.15 L1471.72,144.36 L1471.88,144.57 L1472.03,144.79 L1472.18,145.01 L1472.33,145.23 L1472.48,145.46 L1472.63,145.69 L1472.77,145.92 L1472.91,146.16 L1473.05,146.39 L1473.19,146.64 L1473.33,146.88 L1473.46,147.13 L1473.59,147.38 L1473.72,147.63 L1473.85,147.89 L1473.98,148.15 L1474.10,148.42 L1474.22,148.69 L1474.34,148.96 L1474.46,149.24 L1474.58,149.52 L1474.69,149.80 L1474.80,150.09 L1474.91,150.38 L1475.02,150.68 L1475.12,150.98 L1475.23,151.29 L1475.33,151.60 L1475.43,151.91 L1475.53,152.23 L1475.62,152.56 L1475.72,152.89 L1475.81,153.22 L1475.90,153.56 L1475.98,153.90 L1476.07,154.26 L1476.15,154.61 L1476.23,154.97 L1476.31,155.34 L1476.39,155.72 L1476.47,156.10 L1476.54,156.49 L1476.61,156.89 L1476.68,157.29 L1476.75,157.71 L1476.82,158.13 L1476.88,158.56 L1476.94,159.00 L1477.00,159.44 L1477.06,159.90 L1477.12,160.37 L1477.17,160.86 L1477.23,161.35 L1477.28,161.86 L1477.33,162.38 L1477.37,162.92 L1477.42,163.48 L1477.46,164.05 L1477.50,164.65 L1477.54,165.27 L1477.58,165.91 L1477.62,166.59 L1477.65,167.29 L1477.68,168.04 L1477.72,168.83 L1477.75,169.67 L1477.77,170.58 L1477.80,171.58 L1477.82,172.69 L1477.85,173.98 L1477.87,175.54 L1477.89,177.75 L1477.90,181.42 L1477.92,181.86 L1477.94,182.30 L1477.95,182.74 L1477.96,183.18 L1477.97,183.62 L1477.98,184.06 L1477.98,184.50 L1477.99,184.93 L1477.99,185.37 L1478.00,185.81 L1478.00,186.25" fill="none" stroke="#252525" stroke-width="6" stroke-linejoin="round" stroke-linecap="round" />
<path d="M1103,119 V274 Q1103,286 1115,286 H1265.53 Q1277.53,286 1277.53,274 V186.25" fill="none" stroke="#333" stroke-width="3.0" stroke-linejoin="round" stroke-linecap="round" />
<path d="M1247.53,286.2 H1265.53 Q1277.53,286.2 1277.53,274 V186.25" fill="none" stroke="#333" stroke-width="4.4" stroke-linejoin="round" stroke-linecap="round" />
<path d="M1429,401.4 H1460.00 Q1478.00,401.4 1478.00,383 V186.25" fill="none" stroke="#333" stroke-width="4.2" stroke-linejoin="round" stroke-linecap="round" />
<path d="M1478.00,385 V186.25" fill="none" stroke="#333" stroke-width="5.6" stroke-linejoin="round" stroke-linecap="round" />
<path d="M1045,47.4 Q1070,45 1084,49.6 Q1097,55 1094,62 L1000,204 M1006,171 L1000,204 L1023.5,180" fill="none" stroke="#333" stroke-width="2.2" stroke-linejoin="round" stroke-linecap="round" />
<path d="M1044,46.5 L1054,48" fill="none" stroke="#333" stroke-width="5" stroke-linejoin="round" stroke-linecap="round" />
<path d="M1231.7,47.1 Q1226,53 1214,53 L1205,53 Q1193,55 1191.5,66 L1191,80 L1193,105 M1183.7,86 L1193,106 L1199.7,83.7" fill="none" stroke="#333" stroke-width="2.6" stroke-linejoin="round" stroke-linecap="round" />
<path d="M1186,88 L1193,105 L1198,86 L1193,96 Z" fill="#333"/>
<path d="M1224,51.5 L1232,46.5" fill="none" stroke="#333" stroke-width="5" stroke-linejoin="round" stroke-linecap="round" />
<path d="M34.6,22.5 L91,23 L91,26.5 Q62,27.5 51,34 Q42,42 40.5,58 L39.5,80 L34.6,80 Z" fill="#2e2e2e"/>
<circle cx="41" cy="37" r="1.3" fill="#eee"/>
<path d="M59,38 Q56,42 58.5,46 M55,50 Q63,51 63,56 Q62,60 58,61" fill="none" stroke="#666" stroke-width="2.2" stroke-linejoin="round" stroke-linecap="round" />
<circle cx="72" cy="44" r="2" fill="#333"/>
<path d="M102.4,28.5 C110.4,25 120,30 128,26.8" fill="none" stroke="#444" stroke-width="2.9" stroke-linejoin="round" stroke-linecap="round" />
<path d="M144.4,28.5 C152.4,25 165.7,30 173.7,26.8" fill="none" stroke="#444" stroke-width="2.9" stroke-linejoin="round" stroke-linecap="round" />
<path d="M186.5,28.5 C194.5,25 206,30 214,26.8" fill="none" stroke="#444" stroke-width="2.9" stroke-linejoin="round" stroke-linecap="round" />
<path d="M228.6,28.5 C236.6,25 246,30 254,26.8" fill="none" stroke="#444" stroke-width="2.9" stroke-linejoin="round" stroke-linecap="round" />
<path d="M268.9,28.5 C276.9,25 286.5,30 294.5,26.8" fill="none" stroke="#444" stroke-width="2.9" stroke-linejoin="round" stroke-linecap="round" />
<path d="M309,28.5 C317,25 326.8,30 334.8,26.8" fill="none" stroke="#444" stroke-width="2.9" stroke-linejoin="round" stroke-linecap="round" />
<path d="M345.8,28.5 C353.8,25 363.4,30 371.4,26.8" fill="none" stroke="#444" stroke-width="2.9" stroke-linejoin="round" stroke-linecap="round" />
<path d="M384,28.5 C392,25 401.8,30 409.8,26.8" fill="none" stroke="#444" stroke-width="2.9" stroke-linejoin="round" stroke-linecap="round" />
<path d="M417,28.5 C425,25 433,30 441,26.8" fill="none" stroke="#444" stroke-width="2.9" stroke-linejoin="round" stroke-linecap="round" />
<path d="M450,28.5 C458,25 464.3,30 472.3,26.8" fill="none" stroke="#444" stroke-width="2.9" stroke-linejoin="round" stroke-linecap="round" />
<path d="M479,28.5 C487,25 488,30 496,26.8" fill="none" stroke="#444" stroke-width="2.9" stroke-linejoin="round" stroke-linecap="round" />
<path d="M37.5,88.7 Q35.5,96.0 36.5,103.3" fill="none" stroke="#444" stroke-width="2.9" stroke-linejoin="round" stroke-linecap="round" />
<path d="M37.5,116 Q35.5,123.4 36.5,130.8" fill="none" stroke="#444" stroke-width="2.9" stroke-linejoin="round" stroke-linecap="round" />
<path d="M37.5,143.6 Q35.5,148.14999999999998 36.5,152.7" fill="none" stroke="#444" stroke-width="2.9" stroke-linejoin="round" stroke-linecap="round" />
<g fill="none" stroke="#383838" stroke-width="4.1" stroke-linecap="round" stroke-linejoin="round">
<path d="M719.5,27.8 C708,25.5 694,30 687,40 C680,50 679,60 688,63.2 C695,64.5 702,62 708,58.5"/>
<path d="M753,42.5 C756,37 747,36 740,38 C728,41 721,50 723,56 C726,62 737,60 744,56 C751,52 754,46 753,42.5 Z"/>
<path d="M753.8,60.3 L760,39 M759.5,43 Q772,36 786,40.5 Q789,42 787,46 L772.3,59.6"/>
<path d="M824.6,30.9 L833.8,29.7 L810.3,62.3 M817.8,41.2 Q804,40 796,44.6 Q789,50 791,57 Q794,62 800,61 Q806,60 809.5,58.5"/>
<path d="M826,51.5 L854.5,45.5 Q856,39 848,39.5 Q834,41 827,52 Q822,62 832,62.5 Q840,63 846.5,59.5"/>
<path d="M854.4,63.3 L863.5,41.2 M862.5,44 Q876,38 889,40.5 Q894,42 892,46 L877.7,62.4"/>
<path d="M923.7,39.7 Q912,39 904.5,42.5 Q900,47 906,50 Q914,52 916.2,54 Q917,59 910,60.5 Q903,61 897.7,59.6"/>
<path d="M927,53.5 L954,51.5 Q957,42 946,40 Q932,40 926,52 Q922,62 934,62 Q941,62 945,59.5"/>
<path d="M956.7,61 L965,41 M964,45 Q975,40 991,42.5"/>
<path d="M1021.9,41 Q1010,39 1002,42.5 Q998,47 1005,50 Q1018,51 1022.6,53.4 Q1024,60 1011.6,61 Q1000,61 991,56.9"/>
</g>
<g fill="none" stroke="#383838" stroke-width="4.3" stroke-linecap="round" stroke-linejoin="round">
<path d="M1268.9,34 Q1263,31 1256,34 Q1247,38 1247.5,44.5 Q1249,49 1257,50 Q1269,52 1268,58 Q1265,66 1250,67.5 Q1238,68 1237.5,63 Q1238,60 1242,59.5"/>
<path d="M1281,57 Q1295,52 1299,46 Q1301,41 1294,42 Q1284,44 1279.5,56 Q1277,66 1286,67.5 Q1294,68 1299.8,62.5"/>
<path d="M1331.8,46 Q1331,41 1324,41.5 Q1313,44 1311,56 Q1310,66 1319,66.5 Q1325,67 1329.5,63"/>
<path d="M1363.5,48 C1364,40 1352,40 1346,46 C1339,53 1337,66 1347,66.5 C1357,67 1363,56 1363.5,48 Z"/>
<path d="M1368,66.6 L1374.4,45.8 M1374,47 Q1386,41 1397,42.5 Q1402,44 1400,49 L1388,67"/>
<path d="M1437,32.2 L1447,32 L1424,69 M1431,45 Q1414,44 1408,51 Q1402,60 1406,66 Q1413,68 1423,64"/>
<path d="M1472,45 Q1455,43 1446,50 Q1438,58 1440,64 Q1445,67 1455,60 M1473.5,44.5 L1458,66 Q1462,66 1466,64"/>
<path d="M1472,67 L1483,46 M1482,49 Q1492,44 1505.7,45"/>
<path d="M1513,45 L1522,45 L1521,65 M1536,45.5 L1546.5,45 L1512,82 Q1505,87 1496,85.5"/>
</g>
<g fill="none" stroke="#383838" stroke-width="4.8" stroke-linecap="round" stroke-linejoin="round">
<path d="M354.5,321.5 Q354,316 348,317.5 Q341,320 339,330 L333,357 Q330,366 324,367 Q317,367 316.5,362 Q317,357 320,356.5"/>
<path d="M349,339.5 L356,338.5 L337.5,393 M356,340 Q372,336 374,345 Q375,358 362,365.5 Q355,368 349,366"/>
<path d="M402,343 Q388,343 381,352 Q375,363 381,367.5 Q387,369 394,361 M405,342 L397.5,370"/>
<path d="M408,370 L415,343 M414.5,347 Q425,341 438,344"/>
<path d="M451,325.5 L463.5,324.5 L437,370 M472,340 Q458,347 448,352 Q458,358 464,366 Q467,369 470,367"/>
<path d="M532.5,345 Q530,341 522,342.5 Q506,346 503.5,358 Q502,370 512,369.5 Q520,369 526.5,364"/>
<path d="M561,349 C561,341 549,342 542,347 C535,353 532,366 540,369 C550,371 560,360 561,349 Z"/>
<path d="M567.5,346 L573,345.5 L563.5,369 Q566,370 570,367.5"/>
<path d="M598.5,320 L608,318.5 L583,366 Q586,370 592.5,366"/>
</g>
<g fill="none" stroke="#383838" stroke-width="4.4" stroke-linecap="round" stroke-linejoin="round">
<path d="M1302.5,251 L1309.5,250.3 L1290,295.5 M1309.5,251.5 Q1322,249 1324,257 Q1324,268 1313,273 Q1307,275 1303,274"/>
<path d="M1329.5,253 L1334.2,252.4 L1328,275 M1333.5,257 Q1342,250 1355.5,251"/>
<path d="M1360,253 L1364.5,253 L1359.5,270 Q1360,275 1367,271"/>
<path d="M1376,276 L1383,252 M1382,255 Q1390,249 1396,252 Q1399,255 1397,259 L1390,276 M1396,258 Q1404,250 1409,252 Q1413,255 1411,259 L1404,274"/>
<path d="M1428,254 Q1420,250 1414,258 Q1409,268 1413,273 Q1418,275 1424,268 M1430,253 L1421.5,279.5"/>
<path d="M1438.5,275 L1441.5,258 M1441,261 Q1448,256 1457,256"/>
<path d="M1456,256 L1458.5,270 M1467.5,252 L1437,293 Q1433,295 1431,292"/>
</g>
<g fill="none" stroke="#383838" stroke-width="4.6" stroke-linecap="round" stroke-linejoin="round">
<path d="M1253.5,311 Q1252,307 1248,308 Q1243,310 1241,320 L1233,350 Q1229,358 1222,358.5 Q1215,358 1214.5,353 Q1215,348 1219,347.5"/>
<path d="M1254.5,336 L1261.7,335 L1242,376.5 M1262,336.5 Q1275,333 1275.5,340 Q1275,352 1262,359 Q1256,360 1252,358.5"/>
<path d="M1292,336 Q1284,334 1279,342 Q1273,352 1277,357 Q1282,359 1288,352 M1296.5,335.5 L1291,358.5"/>
<path d="M1301,358.5 L1307.5,338.5 M1307,341 Q1314,336 1325,337.5"/>
<path d="M1340,319 L1349,318.3 L1324,358.5 M1356.5,335 Q1346,340 1336,346 Q1344,351 1350,357"/>
<path d="M1393,337.5 Q1384,334 1377,341 Q1370,351 1373,356 Q1378,359 1389,351 M1397,337 L1384,366 Q1378,374 1370,373 Q1366,372 1365,370"/>
<path d="M1420,338 Q1412,335 1405,343 Q1399,352 1402,357 Q1407,359 1414,352 M1424.5,337.5 L1419,358.5"/>
<path d="M1428,337.5 L1439,336.6 L1420,374 M1440,338.5 Q1455,334 1457,342 Q1456,355 1444,358.5 Q1438,360 1433.5,360"/>
</g>
<circle cx="579" cy="336" r="2.8" fill="#383838"/>
<circle cx="1374" cy="241.5" r="2.3" fill="#383838"/>

</svg></body></html>
